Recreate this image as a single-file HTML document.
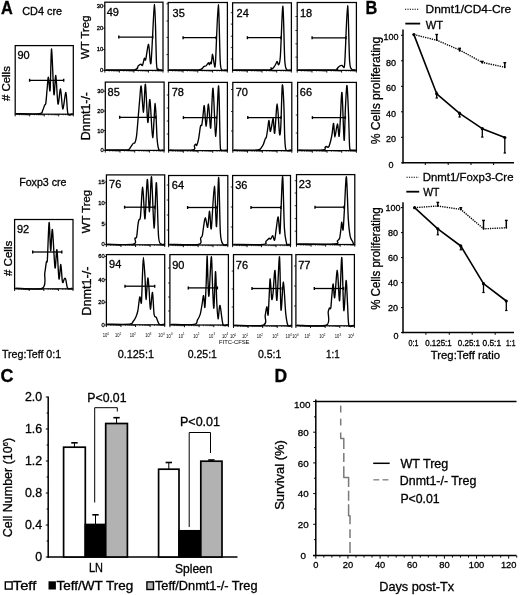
<!DOCTYPE html>
<html><head><meta charset="utf-8"><style>
html,body{margin:0;padding:0;background:#fff;}
body{width:520px;height:595px;overflow:hidden;}
svg{display:block;font-family:"Liberation Sans",sans-serif;filter:grayscale(100%);}
text{stroke:#000;stroke-width:0.3px;}
.n{stroke:none;}
</style></head><body>
<svg width="520" height="595" viewBox="0 0 520 595">
<rect width="520" height="595" fill="#fff"/>
<text x="1.00" y="13.80" font-size="17.5" font-weight="bold" textLength="11.80" lengthAdjust="spacingAndGlyphs" >A</text>
<text x="22.20" y="14.80" font-size="11" textLength="39.90" lengthAdjust="spacingAndGlyphs" >CD4 cre</text>
<text x="19.20" y="186.00" font-size="10.7" textLength="47.30" lengthAdjust="spacingAndGlyphs" >Foxp3 cre</text>
<line x1="15.20" y1="114.20" x2="15.20" y2="116.40" stroke="#000" stroke-width="0.9" />
<line x1="29.72" y1="114.20" x2="29.72" y2="116.40" stroke="#000" stroke-width="0.9" />
<line x1="44.25" y1="114.20" x2="44.25" y2="116.40" stroke="#000" stroke-width="0.9" />
<line x1="58.77" y1="114.20" x2="58.77" y2="116.40" stroke="#000" stroke-width="0.9" />
<line x1="73.30" y1="114.20" x2="73.30" y2="116.40" stroke="#000" stroke-width="0.9" />
<line x1="19.57" y1="114.20" x2="19.57" y2="115.40" stroke="#000" stroke-width="0.6" />
<line x1="22.13" y1="114.20" x2="22.13" y2="115.40" stroke="#000" stroke-width="0.6" />
<line x1="23.94" y1="114.20" x2="23.94" y2="115.40" stroke="#000" stroke-width="0.6" />
<line x1="25.35" y1="114.20" x2="25.35" y2="115.40" stroke="#000" stroke-width="0.6" />
<line x1="26.50" y1="114.20" x2="26.50" y2="115.40" stroke="#000" stroke-width="0.6" />
<line x1="27.47" y1="114.20" x2="27.47" y2="115.40" stroke="#000" stroke-width="0.6" />
<line x1="28.32" y1="114.20" x2="28.32" y2="115.40" stroke="#000" stroke-width="0.6" />
<line x1="29.06" y1="114.20" x2="29.06" y2="115.40" stroke="#000" stroke-width="0.6" />
<line x1="34.10" y1="114.20" x2="34.10" y2="115.40" stroke="#000" stroke-width="0.6" />
<line x1="36.65" y1="114.20" x2="36.65" y2="115.40" stroke="#000" stroke-width="0.6" />
<line x1="38.47" y1="114.20" x2="38.47" y2="115.40" stroke="#000" stroke-width="0.6" />
<line x1="39.88" y1="114.20" x2="39.88" y2="115.40" stroke="#000" stroke-width="0.6" />
<line x1="41.03" y1="114.20" x2="41.03" y2="115.40" stroke="#000" stroke-width="0.6" />
<line x1="42.00" y1="114.20" x2="42.00" y2="115.40" stroke="#000" stroke-width="0.6" />
<line x1="42.84" y1="114.20" x2="42.84" y2="115.40" stroke="#000" stroke-width="0.6" />
<line x1="43.58" y1="114.20" x2="43.58" y2="115.40" stroke="#000" stroke-width="0.6" />
<line x1="48.62" y1="114.20" x2="48.62" y2="115.40" stroke="#000" stroke-width="0.6" />
<line x1="51.18" y1="114.20" x2="51.18" y2="115.40" stroke="#000" stroke-width="0.6" />
<line x1="52.99" y1="114.20" x2="52.99" y2="115.40" stroke="#000" stroke-width="0.6" />
<line x1="54.40" y1="114.20" x2="54.40" y2="115.40" stroke="#000" stroke-width="0.6" />
<line x1="55.55" y1="114.20" x2="55.55" y2="115.40" stroke="#000" stroke-width="0.6" />
<line x1="56.52" y1="114.20" x2="56.52" y2="115.40" stroke="#000" stroke-width="0.6" />
<line x1="57.37" y1="114.20" x2="57.37" y2="115.40" stroke="#000" stroke-width="0.6" />
<line x1="58.11" y1="114.20" x2="58.11" y2="115.40" stroke="#000" stroke-width="0.6" />
<line x1="63.15" y1="114.20" x2="63.15" y2="115.40" stroke="#000" stroke-width="0.6" />
<line x1="65.70" y1="114.20" x2="65.70" y2="115.40" stroke="#000" stroke-width="0.6" />
<line x1="67.52" y1="114.20" x2="67.52" y2="115.40" stroke="#000" stroke-width="0.6" />
<line x1="68.93" y1="114.20" x2="68.93" y2="115.40" stroke="#000" stroke-width="0.6" />
<line x1="70.08" y1="114.20" x2="70.08" y2="115.40" stroke="#000" stroke-width="0.6" />
<line x1="71.05" y1="114.20" x2="71.05" y2="115.40" stroke="#000" stroke-width="0.6" />
<line x1="71.89" y1="114.20" x2="71.89" y2="115.40" stroke="#000" stroke-width="0.6" />
<line x1="72.63" y1="114.20" x2="72.63" y2="115.40" stroke="#000" stroke-width="0.6" />
<rect x="15.20" y="45.60" width="58.10" height="68.60" fill="none" stroke="#000" stroke-width="1.25"/>
<text x="17.40" y="59.20" font-size="11" >90</text>
<line x1="29.60" y1="80.30" x2="63.70" y2="80.30" stroke="#000" stroke-width="1.3" />
<line x1="29.60" y1="78.80" x2="29.60" y2="81.80" stroke="#000" stroke-width="1.4" />
<line x1="63.70" y1="78.80" x2="63.70" y2="81.80" stroke="#000" stroke-width="1.4" />
<path d="M16.00,113.60 C19.52,113.60 35.49,114.10 39.50,113.60 C43.51,113.11 41.94,111.56 42.70,110.30 C43.47,109.04 44.14,106.25 44.60,105.20 C45.06,104.15 45.42,105.69 45.80,103.30 C46.17,100.91 46.71,93.23 47.10,89.30 C47.49,85.37 47.95,76.95 48.40,77.10 C48.85,77.25 49.62,94.52 50.10,90.30 C50.58,86.08 51.03,48.38 51.60,49.00 C52.17,49.62 53.27,90.43 53.90,94.40 C54.53,98.38 55.18,74.06 55.80,75.50 C56.41,76.94 57.30,101.97 58.00,104.00 C58.70,106.03 59.78,88.25 60.50,89.00 C61.22,89.75 61.99,108.49 62.80,109.00 C63.61,109.51 65.14,91.71 65.90,92.40 C66.67,93.09 66.91,110.42 67.90,113.60 C68.89,116.78 71.81,113.60 72.50,113.60" fill="none" stroke="#000" stroke-width="1.35" stroke-linejoin="round" />
<line x1="104.80" y1="70.40" x2="104.80" y2="72.60" stroke="#000" stroke-width="0.9" />
<line x1="119.35" y1="70.40" x2="119.35" y2="72.60" stroke="#000" stroke-width="0.9" />
<line x1="133.90" y1="70.40" x2="133.90" y2="72.60" stroke="#000" stroke-width="0.9" />
<line x1="148.45" y1="70.40" x2="148.45" y2="72.60" stroke="#000" stroke-width="0.9" />
<line x1="163.00" y1="70.40" x2="163.00" y2="72.60" stroke="#000" stroke-width="0.9" />
<line x1="109.18" y1="70.40" x2="109.18" y2="71.60" stroke="#000" stroke-width="0.6" />
<line x1="111.74" y1="70.40" x2="111.74" y2="71.60" stroke="#000" stroke-width="0.6" />
<line x1="113.56" y1="70.40" x2="113.56" y2="71.60" stroke="#000" stroke-width="0.6" />
<line x1="114.97" y1="70.40" x2="114.97" y2="71.60" stroke="#000" stroke-width="0.6" />
<line x1="116.12" y1="70.40" x2="116.12" y2="71.60" stroke="#000" stroke-width="0.6" />
<line x1="117.09" y1="70.40" x2="117.09" y2="71.60" stroke="#000" stroke-width="0.6" />
<line x1="117.94" y1="70.40" x2="117.94" y2="71.60" stroke="#000" stroke-width="0.6" />
<line x1="118.68" y1="70.40" x2="118.68" y2="71.60" stroke="#000" stroke-width="0.6" />
<line x1="123.73" y1="70.40" x2="123.73" y2="71.60" stroke="#000" stroke-width="0.6" />
<line x1="126.29" y1="70.40" x2="126.29" y2="71.60" stroke="#000" stroke-width="0.6" />
<line x1="128.11" y1="70.40" x2="128.11" y2="71.60" stroke="#000" stroke-width="0.6" />
<line x1="129.52" y1="70.40" x2="129.52" y2="71.60" stroke="#000" stroke-width="0.6" />
<line x1="130.67" y1="70.40" x2="130.67" y2="71.60" stroke="#000" stroke-width="0.6" />
<line x1="131.64" y1="70.40" x2="131.64" y2="71.60" stroke="#000" stroke-width="0.6" />
<line x1="132.49" y1="70.40" x2="132.49" y2="71.60" stroke="#000" stroke-width="0.6" />
<line x1="133.23" y1="70.40" x2="133.23" y2="71.60" stroke="#000" stroke-width="0.6" />
<line x1="138.28" y1="70.40" x2="138.28" y2="71.60" stroke="#000" stroke-width="0.6" />
<line x1="140.84" y1="70.40" x2="140.84" y2="71.60" stroke="#000" stroke-width="0.6" />
<line x1="142.66" y1="70.40" x2="142.66" y2="71.60" stroke="#000" stroke-width="0.6" />
<line x1="144.07" y1="70.40" x2="144.07" y2="71.60" stroke="#000" stroke-width="0.6" />
<line x1="145.22" y1="70.40" x2="145.22" y2="71.60" stroke="#000" stroke-width="0.6" />
<line x1="146.19" y1="70.40" x2="146.19" y2="71.60" stroke="#000" stroke-width="0.6" />
<line x1="147.04" y1="70.40" x2="147.04" y2="71.60" stroke="#000" stroke-width="0.6" />
<line x1="147.78" y1="70.40" x2="147.78" y2="71.60" stroke="#000" stroke-width="0.6" />
<line x1="152.83" y1="70.40" x2="152.83" y2="71.60" stroke="#000" stroke-width="0.6" />
<line x1="155.39" y1="70.40" x2="155.39" y2="71.60" stroke="#000" stroke-width="0.6" />
<line x1="157.21" y1="70.40" x2="157.21" y2="71.60" stroke="#000" stroke-width="0.6" />
<line x1="158.62" y1="70.40" x2="158.62" y2="71.60" stroke="#000" stroke-width="0.6" />
<line x1="159.77" y1="70.40" x2="159.77" y2="71.60" stroke="#000" stroke-width="0.6" />
<line x1="160.74" y1="70.40" x2="160.74" y2="71.60" stroke="#000" stroke-width="0.6" />
<line x1="161.59" y1="70.40" x2="161.59" y2="71.60" stroke="#000" stroke-width="0.6" />
<line x1="162.33" y1="70.40" x2="162.33" y2="71.60" stroke="#000" stroke-width="0.6" />
<line x1="103.00" y1="6.00" x2="104.80" y2="6.00" stroke="#000" stroke-width="0.8" />
<line x1="103.00" y1="28.20" x2="104.80" y2="28.20" stroke="#000" stroke-width="0.8" />
<line x1="103.00" y1="49.50" x2="104.80" y2="49.50" stroke="#000" stroke-width="0.8" />
<line x1="103.00" y1="70.20" x2="104.80" y2="70.20" stroke="#000" stroke-width="0.8" />
<text x="103.20" y="7.90" font-size="5.8" text-anchor="end" >30</text>
<text x="103.20" y="30.10" font-size="5.8" text-anchor="end" >20</text>
<text x="103.20" y="51.40" font-size="5.8" text-anchor="end" >10</text>
<text x="103.20" y="71.90" font-size="5.8" text-anchor="end" >0</text>
<rect x="104.80" y="2.20" width="58.20" height="68.20" fill="none" stroke="#000" stroke-width="1.25"/>
<text x="106.70" y="15.50" font-size="11" >49</text>
<line x1="118.80" y1="37.10" x2="152.70" y2="37.10" stroke="#000" stroke-width="1.3" />
<line x1="118.80" y1="35.60" x2="118.80" y2="38.60" stroke="#000" stroke-width="1.4" />
<line x1="152.70" y1="35.60" x2="152.70" y2="38.60" stroke="#000" stroke-width="1.4" />
<path d="M105.60,69.80 C109.91,69.80 129.43,70.37 134.30,69.80 C139.18,69.23 137.11,66.86 138.10,66.00 C139.09,65.14 140.24,64.19 140.90,64.10 C141.56,64.01 141.97,66.26 142.50,65.40 C143.03,64.55 143.92,59.27 144.40,58.40 C144.88,57.53 145.07,61.70 145.70,59.60 C146.33,57.50 147.81,43.92 148.60,44.40 C149.39,44.88 150.10,68.80 151.00,62.80 C151.90,56.80 153.78,4.29 154.60,4.40 C155.42,4.51 155.93,53.78 156.50,63.50 C157.07,73.22 157.88,68.25 158.40,69.20 C158.93,70.15 159.43,69.71 160.00,69.80 C160.57,69.89 161.87,69.80 162.20,69.80" fill="none" stroke="#000" stroke-width="1.35" stroke-linejoin="round" />
<line x1="168.20" y1="70.40" x2="168.20" y2="72.60" stroke="#000" stroke-width="0.9" />
<line x1="183.00" y1="70.40" x2="183.00" y2="72.60" stroke="#000" stroke-width="0.9" />
<line x1="197.80" y1="70.40" x2="197.80" y2="72.60" stroke="#000" stroke-width="0.9" />
<line x1="212.60" y1="70.40" x2="212.60" y2="72.60" stroke="#000" stroke-width="0.9" />
<line x1="227.40" y1="70.40" x2="227.40" y2="72.60" stroke="#000" stroke-width="0.9" />
<line x1="172.65" y1="70.40" x2="172.65" y2="71.60" stroke="#000" stroke-width="0.6" />
<line x1="175.26" y1="70.40" x2="175.26" y2="71.60" stroke="#000" stroke-width="0.6" />
<line x1="177.11" y1="70.40" x2="177.11" y2="71.60" stroke="#000" stroke-width="0.6" />
<line x1="178.55" y1="70.40" x2="178.55" y2="71.60" stroke="#000" stroke-width="0.6" />
<line x1="179.71" y1="70.40" x2="179.71" y2="71.60" stroke="#000" stroke-width="0.6" />
<line x1="180.71" y1="70.40" x2="180.71" y2="71.60" stroke="#000" stroke-width="0.6" />
<line x1="181.56" y1="70.40" x2="181.56" y2="71.60" stroke="#000" stroke-width="0.6" />
<line x1="182.32" y1="70.40" x2="182.32" y2="71.60" stroke="#000" stroke-width="0.6" />
<line x1="187.45" y1="70.40" x2="187.45" y2="71.60" stroke="#000" stroke-width="0.6" />
<line x1="190.06" y1="70.40" x2="190.06" y2="71.60" stroke="#000" stroke-width="0.6" />
<line x1="191.91" y1="70.40" x2="191.91" y2="71.60" stroke="#000" stroke-width="0.6" />
<line x1="193.35" y1="70.40" x2="193.35" y2="71.60" stroke="#000" stroke-width="0.6" />
<line x1="194.51" y1="70.40" x2="194.51" y2="71.60" stroke="#000" stroke-width="0.6" />
<line x1="195.51" y1="70.40" x2="195.51" y2="71.60" stroke="#000" stroke-width="0.6" />
<line x1="196.36" y1="70.40" x2="196.36" y2="71.60" stroke="#000" stroke-width="0.6" />
<line x1="197.12" y1="70.40" x2="197.12" y2="71.60" stroke="#000" stroke-width="0.6" />
<line x1="202.25" y1="70.40" x2="202.25" y2="71.60" stroke="#000" stroke-width="0.6" />
<line x1="204.86" y1="70.40" x2="204.86" y2="71.60" stroke="#000" stroke-width="0.6" />
<line x1="206.71" y1="70.40" x2="206.71" y2="71.60" stroke="#000" stroke-width="0.6" />
<line x1="208.15" y1="70.40" x2="208.15" y2="71.60" stroke="#000" stroke-width="0.6" />
<line x1="209.31" y1="70.40" x2="209.31" y2="71.60" stroke="#000" stroke-width="0.6" />
<line x1="210.31" y1="70.40" x2="210.31" y2="71.60" stroke="#000" stroke-width="0.6" />
<line x1="211.16" y1="70.40" x2="211.16" y2="71.60" stroke="#000" stroke-width="0.6" />
<line x1="211.92" y1="70.40" x2="211.92" y2="71.60" stroke="#000" stroke-width="0.6" />
<line x1="217.05" y1="70.40" x2="217.05" y2="71.60" stroke="#000" stroke-width="0.6" />
<line x1="219.66" y1="70.40" x2="219.66" y2="71.60" stroke="#000" stroke-width="0.6" />
<line x1="221.51" y1="70.40" x2="221.51" y2="71.60" stroke="#000" stroke-width="0.6" />
<line x1="222.95" y1="70.40" x2="222.95" y2="71.60" stroke="#000" stroke-width="0.6" />
<line x1="224.11" y1="70.40" x2="224.11" y2="71.60" stroke="#000" stroke-width="0.6" />
<line x1="225.11" y1="70.40" x2="225.11" y2="71.60" stroke="#000" stroke-width="0.6" />
<line x1="225.96" y1="70.40" x2="225.96" y2="71.60" stroke="#000" stroke-width="0.6" />
<line x1="226.72" y1="70.40" x2="226.72" y2="71.60" stroke="#000" stroke-width="0.6" />
<line x1="166.40" y1="3.80" x2="168.20" y2="3.80" stroke="#000" stroke-width="0.8" />
<line x1="166.40" y1="21.00" x2="168.20" y2="21.00" stroke="#000" stroke-width="0.8" />
<line x1="166.40" y1="37.40" x2="168.20" y2="37.40" stroke="#000" stroke-width="0.8" />
<line x1="166.40" y1="54.60" x2="168.20" y2="54.60" stroke="#000" stroke-width="0.8" />
<rect x="168.20" y="2.50" width="59.20" height="67.90" fill="none" stroke="#000" stroke-width="1.25"/>
<text x="172.60" y="16.50" font-size="11" >35</text>
<line x1="183.10" y1="37.70" x2="216.10" y2="37.70" stroke="#000" stroke-width="1.3" />
<line x1="183.10" y1="36.20" x2="183.10" y2="39.20" stroke="#000" stroke-width="1.4" />
<line x1="216.10" y1="36.20" x2="216.10" y2="39.20" stroke="#000" stroke-width="1.4" />
<path d="M169.00,69.80 C173.44,69.80 193.39,70.28 198.60,69.80 C203.81,69.32 202.56,67.21 203.70,66.60 C204.84,65.98 205.49,66.27 206.20,65.70 C206.91,65.13 207.92,62.95 208.40,62.80 C208.88,62.65 209.10,64.79 209.40,64.70 C209.70,64.61 210.12,62.38 210.40,62.20 C210.69,62.02 210.97,64.69 211.30,63.50 C211.63,62.31 212.16,54.21 212.60,54.30 C213.03,54.39 213.76,62.91 214.20,64.10 C214.63,65.28 214.88,71.09 215.50,62.20 C216.12,53.31 217.60,5.00 218.30,4.80 C219.00,4.60 219.66,51.15 220.20,60.90 C220.74,70.65 220.94,68.47 221.90,69.80 C222.86,71.14 225.89,69.80 226.60,69.80" fill="none" stroke="#000" stroke-width="1.35" stroke-linejoin="round" />
<line x1="232.60" y1="70.40" x2="232.60" y2="72.60" stroke="#000" stroke-width="0.9" />
<line x1="247.30" y1="70.40" x2="247.30" y2="72.60" stroke="#000" stroke-width="0.9" />
<line x1="262.00" y1="70.40" x2="262.00" y2="72.60" stroke="#000" stroke-width="0.9" />
<line x1="276.70" y1="70.40" x2="276.70" y2="72.60" stroke="#000" stroke-width="0.9" />
<line x1="291.40" y1="70.40" x2="291.40" y2="72.60" stroke="#000" stroke-width="0.9" />
<line x1="237.02" y1="70.40" x2="237.02" y2="71.60" stroke="#000" stroke-width="0.6" />
<line x1="239.61" y1="70.40" x2="239.61" y2="71.60" stroke="#000" stroke-width="0.6" />
<line x1="241.45" y1="70.40" x2="241.45" y2="71.60" stroke="#000" stroke-width="0.6" />
<line x1="242.88" y1="70.40" x2="242.88" y2="71.60" stroke="#000" stroke-width="0.6" />
<line x1="244.04" y1="70.40" x2="244.04" y2="71.60" stroke="#000" stroke-width="0.6" />
<line x1="245.02" y1="70.40" x2="245.02" y2="71.60" stroke="#000" stroke-width="0.6" />
<line x1="245.87" y1="70.40" x2="245.87" y2="71.60" stroke="#000" stroke-width="0.6" />
<line x1="246.62" y1="70.40" x2="246.62" y2="71.60" stroke="#000" stroke-width="0.6" />
<line x1="251.72" y1="70.40" x2="251.72" y2="71.60" stroke="#000" stroke-width="0.6" />
<line x1="254.31" y1="70.40" x2="254.31" y2="71.60" stroke="#000" stroke-width="0.6" />
<line x1="256.15" y1="70.40" x2="256.15" y2="71.60" stroke="#000" stroke-width="0.6" />
<line x1="257.58" y1="70.40" x2="257.58" y2="71.60" stroke="#000" stroke-width="0.6" />
<line x1="258.74" y1="70.40" x2="258.74" y2="71.60" stroke="#000" stroke-width="0.6" />
<line x1="259.72" y1="70.40" x2="259.72" y2="71.60" stroke="#000" stroke-width="0.6" />
<line x1="260.57" y1="70.40" x2="260.57" y2="71.60" stroke="#000" stroke-width="0.6" />
<line x1="261.32" y1="70.40" x2="261.32" y2="71.60" stroke="#000" stroke-width="0.6" />
<line x1="266.42" y1="70.40" x2="266.42" y2="71.60" stroke="#000" stroke-width="0.6" />
<line x1="269.01" y1="70.40" x2="269.01" y2="71.60" stroke="#000" stroke-width="0.6" />
<line x1="270.85" y1="70.40" x2="270.85" y2="71.60" stroke="#000" stroke-width="0.6" />
<line x1="272.28" y1="70.40" x2="272.28" y2="71.60" stroke="#000" stroke-width="0.6" />
<line x1="273.44" y1="70.40" x2="273.44" y2="71.60" stroke="#000" stroke-width="0.6" />
<line x1="274.42" y1="70.40" x2="274.42" y2="71.60" stroke="#000" stroke-width="0.6" />
<line x1="275.27" y1="70.40" x2="275.27" y2="71.60" stroke="#000" stroke-width="0.6" />
<line x1="276.02" y1="70.40" x2="276.02" y2="71.60" stroke="#000" stroke-width="0.6" />
<line x1="281.12" y1="70.40" x2="281.12" y2="71.60" stroke="#000" stroke-width="0.6" />
<line x1="283.71" y1="70.40" x2="283.71" y2="71.60" stroke="#000" stroke-width="0.6" />
<line x1="285.55" y1="70.40" x2="285.55" y2="71.60" stroke="#000" stroke-width="0.6" />
<line x1="286.98" y1="70.40" x2="286.98" y2="71.60" stroke="#000" stroke-width="0.6" />
<line x1="288.14" y1="70.40" x2="288.14" y2="71.60" stroke="#000" stroke-width="0.6" />
<line x1="289.12" y1="70.40" x2="289.12" y2="71.60" stroke="#000" stroke-width="0.6" />
<line x1="289.97" y1="70.40" x2="289.97" y2="71.60" stroke="#000" stroke-width="0.6" />
<line x1="290.72" y1="70.40" x2="290.72" y2="71.60" stroke="#000" stroke-width="0.6" />
<line x1="230.80" y1="12.70" x2="232.60" y2="12.70" stroke="#000" stroke-width="0.8" />
<line x1="230.80" y1="24.10" x2="232.60" y2="24.10" stroke="#000" stroke-width="0.8" />
<line x1="230.80" y1="36.20" x2="232.60" y2="36.20" stroke="#000" stroke-width="0.8" />
<line x1="230.80" y1="47.60" x2="232.60" y2="47.60" stroke="#000" stroke-width="0.8" />
<line x1="230.80" y1="59.00" x2="232.60" y2="59.00" stroke="#000" stroke-width="0.8" />
<rect x="232.60" y="2.80" width="58.80" height="67.60" fill="none" stroke="#000" stroke-width="1.25"/>
<text x="236.60" y="16.80" font-size="11" >24</text>
<line x1="247.40" y1="37.70" x2="281.00" y2="37.70" stroke="#000" stroke-width="1.3" />
<line x1="247.40" y1="36.20" x2="247.40" y2="39.20" stroke="#000" stroke-width="1.4" />
<line x1="281.00" y1="36.20" x2="281.00" y2="39.20" stroke="#000" stroke-width="1.4" />
<path d="M233.40,69.80 C238.74,69.80 263.38,70.09 269.00,69.80 C274.62,69.52 270.33,68.10 270.90,67.90 C271.47,67.70 272.23,68.78 272.80,68.50 C273.37,68.22 274.22,66.75 274.70,66.00 C275.18,65.25 275.62,64.17 276.00,63.50 C276.38,62.83 276.80,61.32 277.20,61.50 C277.60,61.68 278.22,65.56 278.70,64.70 C279.18,63.84 279.77,64.56 280.40,55.80 C281.03,47.04 282.24,5.53 282.90,6.30 C283.56,7.07 284.17,51.38 284.80,60.90 C285.43,70.42 286.23,68.47 287.10,69.80 C287.97,71.14 290.07,69.80 290.60,69.80" fill="none" stroke="#000" stroke-width="1.35" stroke-linejoin="round" />
<line x1="297.20" y1="70.40" x2="297.20" y2="72.60" stroke="#000" stroke-width="0.9" />
<line x1="312.00" y1="70.40" x2="312.00" y2="72.60" stroke="#000" stroke-width="0.9" />
<line x1="326.80" y1="70.40" x2="326.80" y2="72.60" stroke="#000" stroke-width="0.9" />
<line x1="341.60" y1="70.40" x2="341.60" y2="72.60" stroke="#000" stroke-width="0.9" />
<line x1="356.40" y1="70.40" x2="356.40" y2="72.60" stroke="#000" stroke-width="0.9" />
<line x1="301.65" y1="70.40" x2="301.65" y2="71.60" stroke="#000" stroke-width="0.6" />
<line x1="304.26" y1="70.40" x2="304.26" y2="71.60" stroke="#000" stroke-width="0.6" />
<line x1="306.11" y1="70.40" x2="306.11" y2="71.60" stroke="#000" stroke-width="0.6" />
<line x1="307.55" y1="70.40" x2="307.55" y2="71.60" stroke="#000" stroke-width="0.6" />
<line x1="308.71" y1="70.40" x2="308.71" y2="71.60" stroke="#000" stroke-width="0.6" />
<line x1="309.71" y1="70.40" x2="309.71" y2="71.60" stroke="#000" stroke-width="0.6" />
<line x1="310.56" y1="70.40" x2="310.56" y2="71.60" stroke="#000" stroke-width="0.6" />
<line x1="311.32" y1="70.40" x2="311.32" y2="71.60" stroke="#000" stroke-width="0.6" />
<line x1="316.45" y1="70.40" x2="316.45" y2="71.60" stroke="#000" stroke-width="0.6" />
<line x1="319.06" y1="70.40" x2="319.06" y2="71.60" stroke="#000" stroke-width="0.6" />
<line x1="320.91" y1="70.40" x2="320.91" y2="71.60" stroke="#000" stroke-width="0.6" />
<line x1="322.35" y1="70.40" x2="322.35" y2="71.60" stroke="#000" stroke-width="0.6" />
<line x1="323.51" y1="70.40" x2="323.51" y2="71.60" stroke="#000" stroke-width="0.6" />
<line x1="324.51" y1="70.40" x2="324.51" y2="71.60" stroke="#000" stroke-width="0.6" />
<line x1="325.36" y1="70.40" x2="325.36" y2="71.60" stroke="#000" stroke-width="0.6" />
<line x1="326.12" y1="70.40" x2="326.12" y2="71.60" stroke="#000" stroke-width="0.6" />
<line x1="331.25" y1="70.40" x2="331.25" y2="71.60" stroke="#000" stroke-width="0.6" />
<line x1="333.86" y1="70.40" x2="333.86" y2="71.60" stroke="#000" stroke-width="0.6" />
<line x1="335.71" y1="70.40" x2="335.71" y2="71.60" stroke="#000" stroke-width="0.6" />
<line x1="337.15" y1="70.40" x2="337.15" y2="71.60" stroke="#000" stroke-width="0.6" />
<line x1="338.31" y1="70.40" x2="338.31" y2="71.60" stroke="#000" stroke-width="0.6" />
<line x1="339.31" y1="70.40" x2="339.31" y2="71.60" stroke="#000" stroke-width="0.6" />
<line x1="340.16" y1="70.40" x2="340.16" y2="71.60" stroke="#000" stroke-width="0.6" />
<line x1="340.92" y1="70.40" x2="340.92" y2="71.60" stroke="#000" stroke-width="0.6" />
<line x1="346.05" y1="70.40" x2="346.05" y2="71.60" stroke="#000" stroke-width="0.6" />
<line x1="348.66" y1="70.40" x2="348.66" y2="71.60" stroke="#000" stroke-width="0.6" />
<line x1="350.51" y1="70.40" x2="350.51" y2="71.60" stroke="#000" stroke-width="0.6" />
<line x1="351.95" y1="70.40" x2="351.95" y2="71.60" stroke="#000" stroke-width="0.6" />
<line x1="353.11" y1="70.40" x2="353.11" y2="71.60" stroke="#000" stroke-width="0.6" />
<line x1="354.11" y1="70.40" x2="354.11" y2="71.60" stroke="#000" stroke-width="0.6" />
<line x1="354.96" y1="70.40" x2="354.96" y2="71.60" stroke="#000" stroke-width="0.6" />
<line x1="355.72" y1="70.40" x2="355.72" y2="71.60" stroke="#000" stroke-width="0.6" />
<line x1="295.40" y1="16.50" x2="297.20" y2="16.50" stroke="#000" stroke-width="0.8" />
<line x1="295.40" y1="30.50" x2="297.20" y2="30.50" stroke="#000" stroke-width="0.8" />
<line x1="295.40" y1="43.80" x2="297.20" y2="43.80" stroke="#000" stroke-width="0.8" />
<line x1="295.40" y1="57.10" x2="297.20" y2="57.10" stroke="#000" stroke-width="0.8" />
<rect x="297.20" y="2.50" width="59.20" height="67.90" fill="none" stroke="#000" stroke-width="1.25"/>
<text x="300.00" y="16.50" font-size="11" >18</text>
<line x1="312.10" y1="37.80" x2="346.00" y2="37.80" stroke="#000" stroke-width="1.3" />
<line x1="312.10" y1="36.30" x2="312.10" y2="39.30" stroke="#000" stroke-width="1.4" />
<line x1="346.00" y1="36.30" x2="346.00" y2="39.30" stroke="#000" stroke-width="1.4" />
<path d="M298.00,69.80 C303.46,69.80 328.53,70.00 334.40,69.80 C340.26,69.61 336.31,69.07 337.10,68.50 C337.90,67.93 338.96,66.47 339.70,66.00 C340.44,65.53 341.48,65.31 342.00,65.40 C342.52,65.49 342.78,67.08 343.20,66.60 C343.62,66.12 344.14,71.34 344.80,62.20 C345.46,53.07 346.88,5.90 347.60,5.70 C348.32,5.50 348.99,51.38 349.60,60.90 C350.22,70.42 351.00,67.86 351.70,69.20 C352.40,70.54 353.72,69.71 354.30,69.80 C354.88,69.89 355.40,69.80 355.60,69.80" fill="none" stroke="#000" stroke-width="1.35" stroke-linejoin="round" />
<line x1="105.30" y1="150.40" x2="105.30" y2="152.60" stroke="#000" stroke-width="0.9" />
<line x1="120.00" y1="150.40" x2="120.00" y2="152.60" stroke="#000" stroke-width="0.9" />
<line x1="134.70" y1="150.40" x2="134.70" y2="152.60" stroke="#000" stroke-width="0.9" />
<line x1="149.40" y1="150.40" x2="149.40" y2="152.60" stroke="#000" stroke-width="0.9" />
<line x1="164.10" y1="150.40" x2="164.10" y2="152.60" stroke="#000" stroke-width="0.9" />
<line x1="109.72" y1="150.40" x2="109.72" y2="151.60" stroke="#000" stroke-width="0.6" />
<line x1="112.31" y1="150.40" x2="112.31" y2="151.60" stroke="#000" stroke-width="0.6" />
<line x1="114.15" y1="150.40" x2="114.15" y2="151.60" stroke="#000" stroke-width="0.6" />
<line x1="115.58" y1="150.40" x2="115.58" y2="151.60" stroke="#000" stroke-width="0.6" />
<line x1="116.74" y1="150.40" x2="116.74" y2="151.60" stroke="#000" stroke-width="0.6" />
<line x1="117.72" y1="150.40" x2="117.72" y2="151.60" stroke="#000" stroke-width="0.6" />
<line x1="118.57" y1="150.40" x2="118.57" y2="151.60" stroke="#000" stroke-width="0.6" />
<line x1="119.32" y1="150.40" x2="119.32" y2="151.60" stroke="#000" stroke-width="0.6" />
<line x1="124.42" y1="150.40" x2="124.42" y2="151.60" stroke="#000" stroke-width="0.6" />
<line x1="127.01" y1="150.40" x2="127.01" y2="151.60" stroke="#000" stroke-width="0.6" />
<line x1="128.85" y1="150.40" x2="128.85" y2="151.60" stroke="#000" stroke-width="0.6" />
<line x1="130.28" y1="150.40" x2="130.28" y2="151.60" stroke="#000" stroke-width="0.6" />
<line x1="131.44" y1="150.40" x2="131.44" y2="151.60" stroke="#000" stroke-width="0.6" />
<line x1="132.42" y1="150.40" x2="132.42" y2="151.60" stroke="#000" stroke-width="0.6" />
<line x1="133.27" y1="150.40" x2="133.27" y2="151.60" stroke="#000" stroke-width="0.6" />
<line x1="134.02" y1="150.40" x2="134.02" y2="151.60" stroke="#000" stroke-width="0.6" />
<line x1="139.12" y1="150.40" x2="139.12" y2="151.60" stroke="#000" stroke-width="0.6" />
<line x1="141.71" y1="150.40" x2="141.71" y2="151.60" stroke="#000" stroke-width="0.6" />
<line x1="143.55" y1="150.40" x2="143.55" y2="151.60" stroke="#000" stroke-width="0.6" />
<line x1="144.98" y1="150.40" x2="144.98" y2="151.60" stroke="#000" stroke-width="0.6" />
<line x1="146.14" y1="150.40" x2="146.14" y2="151.60" stroke="#000" stroke-width="0.6" />
<line x1="147.12" y1="150.40" x2="147.12" y2="151.60" stroke="#000" stroke-width="0.6" />
<line x1="147.97" y1="150.40" x2="147.97" y2="151.60" stroke="#000" stroke-width="0.6" />
<line x1="148.72" y1="150.40" x2="148.72" y2="151.60" stroke="#000" stroke-width="0.6" />
<line x1="153.82" y1="150.40" x2="153.82" y2="151.60" stroke="#000" stroke-width="0.6" />
<line x1="156.41" y1="150.40" x2="156.41" y2="151.60" stroke="#000" stroke-width="0.6" />
<line x1="158.25" y1="150.40" x2="158.25" y2="151.60" stroke="#000" stroke-width="0.6" />
<line x1="159.68" y1="150.40" x2="159.68" y2="151.60" stroke="#000" stroke-width="0.6" />
<line x1="160.84" y1="150.40" x2="160.84" y2="151.60" stroke="#000" stroke-width="0.6" />
<line x1="161.82" y1="150.40" x2="161.82" y2="151.60" stroke="#000" stroke-width="0.6" />
<line x1="162.67" y1="150.40" x2="162.67" y2="151.60" stroke="#000" stroke-width="0.6" />
<line x1="163.42" y1="150.40" x2="163.42" y2="151.60" stroke="#000" stroke-width="0.6" />
<line x1="103.50" y1="91.20" x2="105.30" y2="91.20" stroke="#000" stroke-width="0.8" />
<line x1="103.50" y1="111.00" x2="105.30" y2="111.00" stroke="#000" stroke-width="0.8" />
<line x1="103.50" y1="130.60" x2="105.30" y2="130.60" stroke="#000" stroke-width="0.8" />
<line x1="103.50" y1="150.40" x2="105.30" y2="150.40" stroke="#000" stroke-width="0.8" />
<text x="103.70" y="93.10" font-size="5.8" text-anchor="end" >30</text>
<text x="103.70" y="112.90" font-size="5.8" text-anchor="end" >20</text>
<text x="103.70" y="132.50" font-size="5.8" text-anchor="end" >10</text>
<text x="103.70" y="152.10" font-size="5.8" text-anchor="end" >0</text>
<rect x="105.30" y="82.10" width="58.80" height="68.30" fill="none" stroke="#000" stroke-width="1.25"/>
<text x="107.60" y="95.50" font-size="11" >85</text>
<line x1="119.70" y1="117.30" x2="155.80" y2="117.30" stroke="#000" stroke-width="1.3" />
<line x1="119.70" y1="115.80" x2="119.70" y2="118.80" stroke="#000" stroke-width="1.4" />
<line x1="155.80" y1="115.80" x2="155.80" y2="118.80" stroke="#000" stroke-width="1.4" />
<path d="M106.10,149.80 C109.28,149.80 123.64,150.19 127.30,149.80 C130.96,149.41 129.62,148.16 130.50,147.20 C131.38,146.24 132.54,144.08 133.20,143.40 C133.86,142.72 134.41,143.75 134.90,142.70 C135.40,141.65 136.02,140.02 136.50,136.40 C136.98,132.78 137.63,123.94 138.10,118.60 C138.56,113.26 139.13,105.66 139.60,100.80 C140.06,95.94 140.61,84.48 141.20,86.20 C141.78,87.92 142.87,112.58 143.50,112.30 C144.13,112.02 144.75,82.78 145.40,84.30 C146.05,85.81 147.12,120.11 147.80,122.40 C148.48,124.70 149.17,97.32 149.90,99.60 C150.63,101.88 151.91,137.03 152.70,137.60 C153.49,138.17 154.54,103.20 155.20,103.40 C155.86,103.60 156.53,131.94 157.10,138.90 C157.67,145.86 158.07,148.17 159.00,149.80 C159.93,151.44 162.65,149.80 163.30,149.80" fill="none" stroke="#000" stroke-width="1.35" stroke-linejoin="round" />
<line x1="168.60" y1="150.60" x2="168.60" y2="152.80" stroke="#000" stroke-width="0.9" />
<line x1="183.30" y1="150.60" x2="183.30" y2="152.80" stroke="#000" stroke-width="0.9" />
<line x1="198.00" y1="150.60" x2="198.00" y2="152.80" stroke="#000" stroke-width="0.9" />
<line x1="212.70" y1="150.60" x2="212.70" y2="152.80" stroke="#000" stroke-width="0.9" />
<line x1="227.40" y1="150.60" x2="227.40" y2="152.80" stroke="#000" stroke-width="0.9" />
<line x1="173.02" y1="150.60" x2="173.02" y2="151.80" stroke="#000" stroke-width="0.6" />
<line x1="175.61" y1="150.60" x2="175.61" y2="151.80" stroke="#000" stroke-width="0.6" />
<line x1="177.45" y1="150.60" x2="177.45" y2="151.80" stroke="#000" stroke-width="0.6" />
<line x1="178.88" y1="150.60" x2="178.88" y2="151.80" stroke="#000" stroke-width="0.6" />
<line x1="180.04" y1="150.60" x2="180.04" y2="151.80" stroke="#000" stroke-width="0.6" />
<line x1="181.02" y1="150.60" x2="181.02" y2="151.80" stroke="#000" stroke-width="0.6" />
<line x1="181.87" y1="150.60" x2="181.87" y2="151.80" stroke="#000" stroke-width="0.6" />
<line x1="182.62" y1="150.60" x2="182.62" y2="151.80" stroke="#000" stroke-width="0.6" />
<line x1="187.72" y1="150.60" x2="187.72" y2="151.80" stroke="#000" stroke-width="0.6" />
<line x1="190.31" y1="150.60" x2="190.31" y2="151.80" stroke="#000" stroke-width="0.6" />
<line x1="192.15" y1="150.60" x2="192.15" y2="151.80" stroke="#000" stroke-width="0.6" />
<line x1="193.58" y1="150.60" x2="193.58" y2="151.80" stroke="#000" stroke-width="0.6" />
<line x1="194.74" y1="150.60" x2="194.74" y2="151.80" stroke="#000" stroke-width="0.6" />
<line x1="195.72" y1="150.60" x2="195.72" y2="151.80" stroke="#000" stroke-width="0.6" />
<line x1="196.57" y1="150.60" x2="196.57" y2="151.80" stroke="#000" stroke-width="0.6" />
<line x1="197.32" y1="150.60" x2="197.32" y2="151.80" stroke="#000" stroke-width="0.6" />
<line x1="202.42" y1="150.60" x2="202.42" y2="151.80" stroke="#000" stroke-width="0.6" />
<line x1="205.01" y1="150.60" x2="205.01" y2="151.80" stroke="#000" stroke-width="0.6" />
<line x1="206.85" y1="150.60" x2="206.85" y2="151.80" stroke="#000" stroke-width="0.6" />
<line x1="208.28" y1="150.60" x2="208.28" y2="151.80" stroke="#000" stroke-width="0.6" />
<line x1="209.44" y1="150.60" x2="209.44" y2="151.80" stroke="#000" stroke-width="0.6" />
<line x1="210.42" y1="150.60" x2="210.42" y2="151.80" stroke="#000" stroke-width="0.6" />
<line x1="211.27" y1="150.60" x2="211.27" y2="151.80" stroke="#000" stroke-width="0.6" />
<line x1="212.02" y1="150.60" x2="212.02" y2="151.80" stroke="#000" stroke-width="0.6" />
<line x1="217.12" y1="150.60" x2="217.12" y2="151.80" stroke="#000" stroke-width="0.6" />
<line x1="219.71" y1="150.60" x2="219.71" y2="151.80" stroke="#000" stroke-width="0.6" />
<line x1="221.55" y1="150.60" x2="221.55" y2="151.80" stroke="#000" stroke-width="0.6" />
<line x1="222.98" y1="150.60" x2="222.98" y2="151.80" stroke="#000" stroke-width="0.6" />
<line x1="224.14" y1="150.60" x2="224.14" y2="151.80" stroke="#000" stroke-width="0.6" />
<line x1="225.12" y1="150.60" x2="225.12" y2="151.80" stroke="#000" stroke-width="0.6" />
<line x1="225.97" y1="150.60" x2="225.97" y2="151.80" stroke="#000" stroke-width="0.6" />
<line x1="226.72" y1="150.60" x2="226.72" y2="151.80" stroke="#000" stroke-width="0.6" />
<line x1="166.80" y1="95.00" x2="168.60" y2="95.00" stroke="#000" stroke-width="0.8" />
<line x1="166.80" y1="108.00" x2="168.60" y2="108.00" stroke="#000" stroke-width="0.8" />
<line x1="166.80" y1="121.00" x2="168.60" y2="121.00" stroke="#000" stroke-width="0.8" />
<line x1="166.80" y1="134.00" x2="168.60" y2="134.00" stroke="#000" stroke-width="0.8" />
<rect x="168.60" y="82.40" width="58.80" height="68.20" fill="none" stroke="#000" stroke-width="1.25"/>
<text x="171.70" y="96.40" font-size="11" >78</text>
<line x1="183.40" y1="117.60" x2="216.40" y2="117.60" stroke="#000" stroke-width="1.3" />
<line x1="183.40" y1="116.10" x2="183.40" y2="119.10" stroke="#000" stroke-width="1.4" />
<line x1="216.40" y1="116.10" x2="216.40" y2="119.10" stroke="#000" stroke-width="1.4" />
<path d="M169.40,150.00 C172.90,150.00 188.95,150.62 192.70,150.00 C196.45,149.38 193.95,146.77 194.40,145.90 C194.85,145.03 195.35,144.29 195.70,144.20 C196.04,144.11 196.26,146.09 196.70,145.30 C197.13,144.51 198.03,141.77 198.60,138.90 C199.17,136.03 200.02,128.28 200.50,126.20 C200.98,124.12 201.41,126.71 201.80,125.00 C202.19,123.29 202.72,117.66 203.10,114.80 C203.47,111.94 203.84,104.19 204.30,105.90 C204.77,107.61 205.57,126.48 206.20,126.20 C206.83,125.92 207.82,103.72 208.50,104.00 C209.18,104.28 210.02,130.47 210.70,128.10 C211.38,125.73 212.23,86.95 213.00,88.20 C213.77,89.45 214.96,136.75 215.80,136.40 C216.64,136.06 217.94,84.76 218.60,85.90 C219.26,87.04 219.76,134.38 220.20,144.00 C220.63,153.62 220.54,149.10 221.50,150.00 C222.46,150.90 225.84,150.00 226.60,150.00" fill="none" stroke="#000" stroke-width="1.35" stroke-linejoin="round" />
<line x1="232.80" y1="150.60" x2="232.80" y2="152.80" stroke="#000" stroke-width="0.9" />
<line x1="247.55" y1="150.60" x2="247.55" y2="152.80" stroke="#000" stroke-width="0.9" />
<line x1="262.30" y1="150.60" x2="262.30" y2="152.80" stroke="#000" stroke-width="0.9" />
<line x1="277.05" y1="150.60" x2="277.05" y2="152.80" stroke="#000" stroke-width="0.9" />
<line x1="291.80" y1="150.60" x2="291.80" y2="152.80" stroke="#000" stroke-width="0.9" />
<line x1="237.24" y1="150.60" x2="237.24" y2="151.80" stroke="#000" stroke-width="0.6" />
<line x1="239.84" y1="150.60" x2="239.84" y2="151.80" stroke="#000" stroke-width="0.6" />
<line x1="241.68" y1="150.60" x2="241.68" y2="151.80" stroke="#000" stroke-width="0.6" />
<line x1="243.11" y1="150.60" x2="243.11" y2="151.80" stroke="#000" stroke-width="0.6" />
<line x1="244.28" y1="150.60" x2="244.28" y2="151.80" stroke="#000" stroke-width="0.6" />
<line x1="245.26" y1="150.60" x2="245.26" y2="151.80" stroke="#000" stroke-width="0.6" />
<line x1="246.12" y1="150.60" x2="246.12" y2="151.80" stroke="#000" stroke-width="0.6" />
<line x1="246.87" y1="150.60" x2="246.87" y2="151.80" stroke="#000" stroke-width="0.6" />
<line x1="251.99" y1="150.60" x2="251.99" y2="151.80" stroke="#000" stroke-width="0.6" />
<line x1="254.59" y1="150.60" x2="254.59" y2="151.80" stroke="#000" stroke-width="0.6" />
<line x1="256.43" y1="150.60" x2="256.43" y2="151.80" stroke="#000" stroke-width="0.6" />
<line x1="257.86" y1="150.60" x2="257.86" y2="151.80" stroke="#000" stroke-width="0.6" />
<line x1="259.03" y1="150.60" x2="259.03" y2="151.80" stroke="#000" stroke-width="0.6" />
<line x1="260.01" y1="150.60" x2="260.01" y2="151.80" stroke="#000" stroke-width="0.6" />
<line x1="260.87" y1="150.60" x2="260.87" y2="151.80" stroke="#000" stroke-width="0.6" />
<line x1="261.62" y1="150.60" x2="261.62" y2="151.80" stroke="#000" stroke-width="0.6" />
<line x1="266.74" y1="150.60" x2="266.74" y2="151.80" stroke="#000" stroke-width="0.6" />
<line x1="269.34" y1="150.60" x2="269.34" y2="151.80" stroke="#000" stroke-width="0.6" />
<line x1="271.18" y1="150.60" x2="271.18" y2="151.80" stroke="#000" stroke-width="0.6" />
<line x1="272.61" y1="150.60" x2="272.61" y2="151.80" stroke="#000" stroke-width="0.6" />
<line x1="273.78" y1="150.60" x2="273.78" y2="151.80" stroke="#000" stroke-width="0.6" />
<line x1="274.76" y1="150.60" x2="274.76" y2="151.80" stroke="#000" stroke-width="0.6" />
<line x1="275.62" y1="150.60" x2="275.62" y2="151.80" stroke="#000" stroke-width="0.6" />
<line x1="276.37" y1="150.60" x2="276.37" y2="151.80" stroke="#000" stroke-width="0.6" />
<line x1="281.49" y1="150.60" x2="281.49" y2="151.80" stroke="#000" stroke-width="0.6" />
<line x1="284.09" y1="150.60" x2="284.09" y2="151.80" stroke="#000" stroke-width="0.6" />
<line x1="285.93" y1="150.60" x2="285.93" y2="151.80" stroke="#000" stroke-width="0.6" />
<line x1="287.36" y1="150.60" x2="287.36" y2="151.80" stroke="#000" stroke-width="0.6" />
<line x1="288.53" y1="150.60" x2="288.53" y2="151.80" stroke="#000" stroke-width="0.6" />
<line x1="289.51" y1="150.60" x2="289.51" y2="151.80" stroke="#000" stroke-width="0.6" />
<line x1="290.37" y1="150.60" x2="290.37" y2="151.80" stroke="#000" stroke-width="0.6" />
<line x1="291.12" y1="150.60" x2="291.12" y2="151.80" stroke="#000" stroke-width="0.6" />
<line x1="231.00" y1="89.50" x2="232.80" y2="89.50" stroke="#000" stroke-width="0.8" />
<line x1="231.00" y1="111.50" x2="232.80" y2="111.50" stroke="#000" stroke-width="0.8" />
<line x1="231.00" y1="131.00" x2="232.80" y2="131.00" stroke="#000" stroke-width="0.8" />
<rect x="232.80" y="82.40" width="59.00" height="68.20" fill="none" stroke="#000" stroke-width="1.25"/>
<text x="235.70" y="96.40" font-size="11" >70</text>
<line x1="247.80" y1="117.60" x2="281.00" y2="117.60" stroke="#000" stroke-width="1.3" />
<line x1="247.80" y1="116.10" x2="247.80" y2="119.10" stroke="#000" stroke-width="1.4" />
<line x1="281.00" y1="116.10" x2="281.00" y2="119.10" stroke="#000" stroke-width="1.4" />
<path d="M233.60,150.00 C237.20,150.00 253.43,150.38 257.60,150.00 C261.77,149.62 260.54,148.31 261.40,147.50 C262.25,146.69 262.73,145.89 263.30,144.60 C263.87,143.31 264.74,140.04 265.20,138.90 C265.66,137.76 266.02,138.51 266.40,137.00 C266.77,135.49 267.31,131.28 267.70,128.80 C268.09,126.33 268.62,120.12 269.00,120.50 C269.38,120.88 269.82,130.34 270.20,131.30 C270.57,132.26 271.05,128.81 271.50,126.90 C271.95,125.00 272.72,117.66 273.20,118.60 C273.68,119.54 274.10,135.39 274.70,133.20 C275.30,131.01 276.48,103.91 277.20,104.00 C277.92,104.09 278.96,130.47 279.50,133.80 C280.04,137.13 280.38,133.46 280.80,126.20 C281.22,118.94 281.85,88.82 282.30,85.40 C282.75,81.98 283.43,95.38 283.80,103.40 C284.18,111.43 284.45,131.91 284.80,138.90 C285.15,145.89 285.17,148.34 286.10,150.00 C287.03,151.66 290.26,150.00 291.00,150.00" fill="none" stroke="#000" stroke-width="1.35" stroke-linejoin="round" />
<line x1="297.60" y1="150.60" x2="297.60" y2="152.80" stroke="#000" stroke-width="0.9" />
<line x1="312.30" y1="150.60" x2="312.30" y2="152.80" stroke="#000" stroke-width="0.9" />
<line x1="327.00" y1="150.60" x2="327.00" y2="152.80" stroke="#000" stroke-width="0.9" />
<line x1="341.70" y1="150.60" x2="341.70" y2="152.80" stroke="#000" stroke-width="0.9" />
<line x1="356.40" y1="150.60" x2="356.40" y2="152.80" stroke="#000" stroke-width="0.9" />
<line x1="302.02" y1="150.60" x2="302.02" y2="151.80" stroke="#000" stroke-width="0.6" />
<line x1="304.61" y1="150.60" x2="304.61" y2="151.80" stroke="#000" stroke-width="0.6" />
<line x1="306.45" y1="150.60" x2="306.45" y2="151.80" stroke="#000" stroke-width="0.6" />
<line x1="307.88" y1="150.60" x2="307.88" y2="151.80" stroke="#000" stroke-width="0.6" />
<line x1="309.04" y1="150.60" x2="309.04" y2="151.80" stroke="#000" stroke-width="0.6" />
<line x1="310.02" y1="150.60" x2="310.02" y2="151.80" stroke="#000" stroke-width="0.6" />
<line x1="310.87" y1="150.60" x2="310.87" y2="151.80" stroke="#000" stroke-width="0.6" />
<line x1="311.62" y1="150.60" x2="311.62" y2="151.80" stroke="#000" stroke-width="0.6" />
<line x1="316.72" y1="150.60" x2="316.72" y2="151.80" stroke="#000" stroke-width="0.6" />
<line x1="319.31" y1="150.60" x2="319.31" y2="151.80" stroke="#000" stroke-width="0.6" />
<line x1="321.15" y1="150.60" x2="321.15" y2="151.80" stroke="#000" stroke-width="0.6" />
<line x1="322.58" y1="150.60" x2="322.58" y2="151.80" stroke="#000" stroke-width="0.6" />
<line x1="323.74" y1="150.60" x2="323.74" y2="151.80" stroke="#000" stroke-width="0.6" />
<line x1="324.72" y1="150.60" x2="324.72" y2="151.80" stroke="#000" stroke-width="0.6" />
<line x1="325.57" y1="150.60" x2="325.57" y2="151.80" stroke="#000" stroke-width="0.6" />
<line x1="326.32" y1="150.60" x2="326.32" y2="151.80" stroke="#000" stroke-width="0.6" />
<line x1="331.42" y1="150.60" x2="331.42" y2="151.80" stroke="#000" stroke-width="0.6" />
<line x1="334.01" y1="150.60" x2="334.01" y2="151.80" stroke="#000" stroke-width="0.6" />
<line x1="335.85" y1="150.60" x2="335.85" y2="151.80" stroke="#000" stroke-width="0.6" />
<line x1="337.28" y1="150.60" x2="337.28" y2="151.80" stroke="#000" stroke-width="0.6" />
<line x1="338.44" y1="150.60" x2="338.44" y2="151.80" stroke="#000" stroke-width="0.6" />
<line x1="339.42" y1="150.60" x2="339.42" y2="151.80" stroke="#000" stroke-width="0.6" />
<line x1="340.27" y1="150.60" x2="340.27" y2="151.80" stroke="#000" stroke-width="0.6" />
<line x1="341.02" y1="150.60" x2="341.02" y2="151.80" stroke="#000" stroke-width="0.6" />
<line x1="346.12" y1="150.60" x2="346.12" y2="151.80" stroke="#000" stroke-width="0.6" />
<line x1="348.71" y1="150.60" x2="348.71" y2="151.80" stroke="#000" stroke-width="0.6" />
<line x1="350.55" y1="150.60" x2="350.55" y2="151.80" stroke="#000" stroke-width="0.6" />
<line x1="351.98" y1="150.60" x2="351.98" y2="151.80" stroke="#000" stroke-width="0.6" />
<line x1="353.14" y1="150.60" x2="353.14" y2="151.80" stroke="#000" stroke-width="0.6" />
<line x1="354.12" y1="150.60" x2="354.12" y2="151.80" stroke="#000" stroke-width="0.6" />
<line x1="354.97" y1="150.60" x2="354.97" y2="151.80" stroke="#000" stroke-width="0.6" />
<line x1="355.72" y1="150.60" x2="355.72" y2="151.80" stroke="#000" stroke-width="0.6" />
<line x1="295.80" y1="96.00" x2="297.60" y2="96.00" stroke="#000" stroke-width="0.8" />
<line x1="295.80" y1="115.00" x2="297.60" y2="115.00" stroke="#000" stroke-width="0.8" />
<line x1="295.80" y1="133.00" x2="297.60" y2="133.00" stroke="#000" stroke-width="0.8" />
<rect x="297.60" y="82.40" width="58.80" height="68.20" fill="none" stroke="#000" stroke-width="1.25"/>
<text x="299.80" y="96.40" font-size="11" >66</text>
<line x1="312.40" y1="117.60" x2="345.40" y2="117.60" stroke="#000" stroke-width="1.3" />
<line x1="312.40" y1="116.10" x2="312.40" y2="119.10" stroke="#000" stroke-width="1.4" />
<line x1="345.40" y1="116.10" x2="345.40" y2="119.10" stroke="#000" stroke-width="1.4" />
<path d="M298.40,150.00 C302.08,150.00 318.89,150.42 322.90,150.00 C326.90,149.58 324.53,147.72 325.10,147.20 C325.67,146.67 326.19,146.50 326.70,146.50 C327.21,146.50 327.93,147.95 328.50,147.20 C329.07,146.45 329.96,143.51 330.50,141.50 C331.04,139.49 331.63,136.52 332.10,133.80 C332.57,131.09 333.18,122.92 333.60,123.40 C334.02,123.88 334.33,136.93 334.90,137.00 C335.47,137.07 336.77,123.99 337.40,123.90 C338.03,123.81 338.67,137.00 339.10,136.40 C339.54,135.80 339.87,126.47 340.30,119.90 C340.74,113.33 341.43,89.55 342.00,92.60 C342.57,95.64 343.59,137.81 344.10,140.20 C344.61,142.58 344.96,116.69 345.40,108.50 C345.83,100.31 346.52,84.46 347.00,85.60 C347.48,86.74 348.21,106.96 348.60,116.10 C348.99,125.23 349.23,141.41 349.60,146.50 C349.98,151.59 350.20,149.47 351.10,150.00 C352.00,150.53 354.92,150.00 355.60,150.00" fill="none" stroke="#000" stroke-width="1.35" stroke-linejoin="round" />
<line x1="14.60" y1="288.80" x2="14.60" y2="291.00" stroke="#000" stroke-width="0.9" />
<line x1="29.20" y1="288.80" x2="29.20" y2="291.00" stroke="#000" stroke-width="0.9" />
<line x1="43.80" y1="288.80" x2="43.80" y2="291.00" stroke="#000" stroke-width="0.9" />
<line x1="58.40" y1="288.80" x2="58.40" y2="291.00" stroke="#000" stroke-width="0.9" />
<line x1="73.00" y1="288.80" x2="73.00" y2="291.00" stroke="#000" stroke-width="0.9" />
<line x1="18.99" y1="288.80" x2="18.99" y2="290.00" stroke="#000" stroke-width="0.6" />
<line x1="21.56" y1="288.80" x2="21.56" y2="290.00" stroke="#000" stroke-width="0.6" />
<line x1="23.39" y1="288.80" x2="23.39" y2="290.00" stroke="#000" stroke-width="0.6" />
<line x1="24.81" y1="288.80" x2="24.81" y2="290.00" stroke="#000" stroke-width="0.6" />
<line x1="25.96" y1="288.80" x2="25.96" y2="290.00" stroke="#000" stroke-width="0.6" />
<line x1="26.94" y1="288.80" x2="26.94" y2="290.00" stroke="#000" stroke-width="0.6" />
<line x1="27.78" y1="288.80" x2="27.78" y2="290.00" stroke="#000" stroke-width="0.6" />
<line x1="28.53" y1="288.80" x2="28.53" y2="290.00" stroke="#000" stroke-width="0.6" />
<line x1="33.59" y1="288.80" x2="33.59" y2="290.00" stroke="#000" stroke-width="0.6" />
<line x1="36.16" y1="288.80" x2="36.16" y2="290.00" stroke="#000" stroke-width="0.6" />
<line x1="37.99" y1="288.80" x2="37.99" y2="290.00" stroke="#000" stroke-width="0.6" />
<line x1="39.41" y1="288.80" x2="39.41" y2="290.00" stroke="#000" stroke-width="0.6" />
<line x1="40.56" y1="288.80" x2="40.56" y2="290.00" stroke="#000" stroke-width="0.6" />
<line x1="41.54" y1="288.80" x2="41.54" y2="290.00" stroke="#000" stroke-width="0.6" />
<line x1="42.38" y1="288.80" x2="42.38" y2="290.00" stroke="#000" stroke-width="0.6" />
<line x1="43.13" y1="288.80" x2="43.13" y2="290.00" stroke="#000" stroke-width="0.6" />
<line x1="48.19" y1="288.80" x2="48.19" y2="290.00" stroke="#000" stroke-width="0.6" />
<line x1="50.76" y1="288.80" x2="50.76" y2="290.00" stroke="#000" stroke-width="0.6" />
<line x1="52.59" y1="288.80" x2="52.59" y2="290.00" stroke="#000" stroke-width="0.6" />
<line x1="54.01" y1="288.80" x2="54.01" y2="290.00" stroke="#000" stroke-width="0.6" />
<line x1="55.16" y1="288.80" x2="55.16" y2="290.00" stroke="#000" stroke-width="0.6" />
<line x1="56.14" y1="288.80" x2="56.14" y2="290.00" stroke="#000" stroke-width="0.6" />
<line x1="56.98" y1="288.80" x2="56.98" y2="290.00" stroke="#000" stroke-width="0.6" />
<line x1="57.73" y1="288.80" x2="57.73" y2="290.00" stroke="#000" stroke-width="0.6" />
<line x1="62.79" y1="288.80" x2="62.79" y2="290.00" stroke="#000" stroke-width="0.6" />
<line x1="65.36" y1="288.80" x2="65.36" y2="290.00" stroke="#000" stroke-width="0.6" />
<line x1="67.19" y1="288.80" x2="67.19" y2="290.00" stroke="#000" stroke-width="0.6" />
<line x1="68.61" y1="288.80" x2="68.61" y2="290.00" stroke="#000" stroke-width="0.6" />
<line x1="69.76" y1="288.80" x2="69.76" y2="290.00" stroke="#000" stroke-width="0.6" />
<line x1="70.74" y1="288.80" x2="70.74" y2="290.00" stroke="#000" stroke-width="0.6" />
<line x1="71.58" y1="288.80" x2="71.58" y2="290.00" stroke="#000" stroke-width="0.6" />
<line x1="72.33" y1="288.80" x2="72.33" y2="290.00" stroke="#000" stroke-width="0.6" />
<rect x="14.60" y="219.50" width="58.40" height="69.30" fill="none" stroke="#000" stroke-width="1.25"/>
<text x="16.90" y="233.00" font-size="11" >92</text>
<line x1="32.70" y1="252.00" x2="61.80" y2="252.00" stroke="#000" stroke-width="1.3" />
<line x1="32.70" y1="250.50" x2="32.70" y2="253.50" stroke="#000" stroke-width="1.4" />
<line x1="61.80" y1="250.50" x2="61.80" y2="253.50" stroke="#000" stroke-width="1.4" />
<path d="M15.40,288.20 C19.45,288.20 37.99,290.48 42.40,288.20 C46.81,285.92 44.20,276.94 44.80,273.00 C45.40,269.06 46.01,263.97 46.40,261.90 C46.79,259.83 46.99,265.11 47.40,259.20 C47.80,253.29 48.61,223.78 49.10,222.50 C49.59,221.22 50.21,249.65 50.70,250.70 C51.20,251.75 51.75,226.94 52.40,229.50 C53.05,232.06 54.33,264.77 55.00,267.80 C55.67,270.83 56.30,248.03 56.90,249.70 C57.50,251.36 58.41,276.68 59.00,278.90 C59.59,281.12 60.27,264.00 60.80,264.50 C61.32,265.00 61.95,280.10 62.50,282.20 C63.05,284.30 64.00,278.89 64.50,278.50 C65.00,278.11 65.32,278.15 65.80,279.60 C66.28,281.06 66.74,286.91 67.70,288.20 C68.66,289.49 71.53,288.20 72.20,288.20" fill="none" stroke="#000" stroke-width="1.35" stroke-linejoin="round" />
<line x1="106.40" y1="244.80" x2="106.40" y2="247.00" stroke="#000" stroke-width="0.9" />
<line x1="120.97" y1="244.80" x2="120.97" y2="247.00" stroke="#000" stroke-width="0.9" />
<line x1="135.55" y1="244.80" x2="135.55" y2="247.00" stroke="#000" stroke-width="0.9" />
<line x1="150.12" y1="244.80" x2="150.12" y2="247.00" stroke="#000" stroke-width="0.9" />
<line x1="164.70" y1="244.80" x2="164.70" y2="247.00" stroke="#000" stroke-width="0.9" />
<line x1="110.79" y1="244.80" x2="110.79" y2="246.00" stroke="#000" stroke-width="0.6" />
<line x1="113.35" y1="244.80" x2="113.35" y2="246.00" stroke="#000" stroke-width="0.6" />
<line x1="115.17" y1="244.80" x2="115.17" y2="246.00" stroke="#000" stroke-width="0.6" />
<line x1="116.59" y1="244.80" x2="116.59" y2="246.00" stroke="#000" stroke-width="0.6" />
<line x1="117.74" y1="244.80" x2="117.74" y2="246.00" stroke="#000" stroke-width="0.6" />
<line x1="118.72" y1="244.80" x2="118.72" y2="246.00" stroke="#000" stroke-width="0.6" />
<line x1="119.56" y1="244.80" x2="119.56" y2="246.00" stroke="#000" stroke-width="0.6" />
<line x1="120.30" y1="244.80" x2="120.30" y2="246.00" stroke="#000" stroke-width="0.6" />
<line x1="125.36" y1="244.80" x2="125.36" y2="246.00" stroke="#000" stroke-width="0.6" />
<line x1="127.93" y1="244.80" x2="127.93" y2="246.00" stroke="#000" stroke-width="0.6" />
<line x1="129.75" y1="244.80" x2="129.75" y2="246.00" stroke="#000" stroke-width="0.6" />
<line x1="131.16" y1="244.80" x2="131.16" y2="246.00" stroke="#000" stroke-width="0.6" />
<line x1="132.31" y1="244.80" x2="132.31" y2="246.00" stroke="#000" stroke-width="0.6" />
<line x1="133.29" y1="244.80" x2="133.29" y2="246.00" stroke="#000" stroke-width="0.6" />
<line x1="134.14" y1="244.80" x2="134.14" y2="246.00" stroke="#000" stroke-width="0.6" />
<line x1="134.88" y1="244.80" x2="134.88" y2="246.00" stroke="#000" stroke-width="0.6" />
<line x1="139.94" y1="244.80" x2="139.94" y2="246.00" stroke="#000" stroke-width="0.6" />
<line x1="142.50" y1="244.80" x2="142.50" y2="246.00" stroke="#000" stroke-width="0.6" />
<line x1="144.32" y1="244.80" x2="144.32" y2="246.00" stroke="#000" stroke-width="0.6" />
<line x1="145.74" y1="244.80" x2="145.74" y2="246.00" stroke="#000" stroke-width="0.6" />
<line x1="146.89" y1="244.80" x2="146.89" y2="246.00" stroke="#000" stroke-width="0.6" />
<line x1="147.87" y1="244.80" x2="147.87" y2="246.00" stroke="#000" stroke-width="0.6" />
<line x1="148.71" y1="244.80" x2="148.71" y2="246.00" stroke="#000" stroke-width="0.6" />
<line x1="149.45" y1="244.80" x2="149.45" y2="246.00" stroke="#000" stroke-width="0.6" />
<line x1="154.51" y1="244.80" x2="154.51" y2="246.00" stroke="#000" stroke-width="0.6" />
<line x1="157.08" y1="244.80" x2="157.08" y2="246.00" stroke="#000" stroke-width="0.6" />
<line x1="158.90" y1="244.80" x2="158.90" y2="246.00" stroke="#000" stroke-width="0.6" />
<line x1="160.31" y1="244.80" x2="160.31" y2="246.00" stroke="#000" stroke-width="0.6" />
<line x1="161.46" y1="244.80" x2="161.46" y2="246.00" stroke="#000" stroke-width="0.6" />
<line x1="162.44" y1="244.80" x2="162.44" y2="246.00" stroke="#000" stroke-width="0.6" />
<line x1="163.29" y1="244.80" x2="163.29" y2="246.00" stroke="#000" stroke-width="0.6" />
<line x1="164.03" y1="244.80" x2="164.03" y2="246.00" stroke="#000" stroke-width="0.6" />
<line x1="104.60" y1="182.00" x2="106.40" y2="182.00" stroke="#000" stroke-width="0.8" />
<line x1="104.60" y1="202.70" x2="106.40" y2="202.70" stroke="#000" stroke-width="0.8" />
<line x1="104.60" y1="224.10" x2="106.40" y2="224.10" stroke="#000" stroke-width="0.8" />
<line x1="104.60" y1="244.50" x2="106.40" y2="244.50" stroke="#000" stroke-width="0.8" />
<text x="104.80" y="183.90" font-size="5.8" text-anchor="end" >15</text>
<text x="104.80" y="204.60" font-size="5.8" text-anchor="end" >10</text>
<text x="104.80" y="226.00" font-size="5.8" text-anchor="end" >5</text>
<text x="104.80" y="246.40" font-size="5.8" text-anchor="end" >0</text>
<rect x="106.40" y="174.90" width="58.30" height="69.90" fill="none" stroke="#000" stroke-width="1.25"/>
<text x="109.10" y="188.10" font-size="11" >76</text>
<line x1="124.60" y1="207.20" x2="154.70" y2="207.20" stroke="#000" stroke-width="1.3" />
<line x1="124.60" y1="205.70" x2="124.60" y2="208.70" stroke="#000" stroke-width="1.4" />
<line x1="154.70" y1="205.70" x2="154.70" y2="208.70" stroke="#000" stroke-width="1.4" />
<path d="M107.20,244.20 C111.13,244.20 129.25,245.09 133.40,244.20 C137.56,243.32 134.42,239.38 134.90,238.30 C135.38,237.22 136.15,238.94 136.60,237.00 C137.05,235.06 137.57,227.92 137.90,225.40 C138.23,222.88 138.41,221.56 138.80,220.20 C139.19,218.83 139.91,221.25 140.50,216.30 C141.09,211.35 142.02,186.81 142.70,187.20 C143.38,187.59 144.31,220.07 145.00,218.90 C145.69,217.73 146.62,180.47 147.30,179.40 C147.98,178.34 148.87,212.19 149.50,211.80 C150.13,211.41 150.81,174.37 151.50,176.80 C152.19,179.23 153.36,227.13 154.10,228.00 C154.84,228.87 155.72,181.25 156.40,182.60 C157.08,183.95 157.79,227.76 158.60,237.00 C159.41,246.24 161.01,243.12 161.80,244.20 C162.59,245.28 163.58,244.20 163.90,244.20" fill="none" stroke="#000" stroke-width="1.35" stroke-linejoin="round" />
<line x1="168.60" y1="245.00" x2="168.60" y2="247.20" stroke="#000" stroke-width="0.9" />
<line x1="183.40" y1="245.00" x2="183.40" y2="247.20" stroke="#000" stroke-width="0.9" />
<line x1="198.20" y1="245.00" x2="198.20" y2="247.20" stroke="#000" stroke-width="0.9" />
<line x1="213.00" y1="245.00" x2="213.00" y2="247.20" stroke="#000" stroke-width="0.9" />
<line x1="227.80" y1="245.00" x2="227.80" y2="247.20" stroke="#000" stroke-width="0.9" />
<line x1="173.05" y1="245.00" x2="173.05" y2="246.20" stroke="#000" stroke-width="0.6" />
<line x1="175.66" y1="245.00" x2="175.66" y2="246.20" stroke="#000" stroke-width="0.6" />
<line x1="177.51" y1="245.00" x2="177.51" y2="246.20" stroke="#000" stroke-width="0.6" />
<line x1="178.95" y1="245.00" x2="178.95" y2="246.20" stroke="#000" stroke-width="0.6" />
<line x1="180.11" y1="245.00" x2="180.11" y2="246.20" stroke="#000" stroke-width="0.6" />
<line x1="181.11" y1="245.00" x2="181.11" y2="246.20" stroke="#000" stroke-width="0.6" />
<line x1="181.96" y1="245.00" x2="181.96" y2="246.20" stroke="#000" stroke-width="0.6" />
<line x1="182.72" y1="245.00" x2="182.72" y2="246.20" stroke="#000" stroke-width="0.6" />
<line x1="187.85" y1="245.00" x2="187.85" y2="246.20" stroke="#000" stroke-width="0.6" />
<line x1="190.46" y1="245.00" x2="190.46" y2="246.20" stroke="#000" stroke-width="0.6" />
<line x1="192.31" y1="245.00" x2="192.31" y2="246.20" stroke="#000" stroke-width="0.6" />
<line x1="193.75" y1="245.00" x2="193.75" y2="246.20" stroke="#000" stroke-width="0.6" />
<line x1="194.91" y1="245.00" x2="194.91" y2="246.20" stroke="#000" stroke-width="0.6" />
<line x1="195.91" y1="245.00" x2="195.91" y2="246.20" stroke="#000" stroke-width="0.6" />
<line x1="196.76" y1="245.00" x2="196.76" y2="246.20" stroke="#000" stroke-width="0.6" />
<line x1="197.52" y1="245.00" x2="197.52" y2="246.20" stroke="#000" stroke-width="0.6" />
<line x1="202.65" y1="245.00" x2="202.65" y2="246.20" stroke="#000" stroke-width="0.6" />
<line x1="205.26" y1="245.00" x2="205.26" y2="246.20" stroke="#000" stroke-width="0.6" />
<line x1="207.11" y1="245.00" x2="207.11" y2="246.20" stroke="#000" stroke-width="0.6" />
<line x1="208.55" y1="245.00" x2="208.55" y2="246.20" stroke="#000" stroke-width="0.6" />
<line x1="209.71" y1="245.00" x2="209.71" y2="246.20" stroke="#000" stroke-width="0.6" />
<line x1="210.71" y1="245.00" x2="210.71" y2="246.20" stroke="#000" stroke-width="0.6" />
<line x1="211.56" y1="245.00" x2="211.56" y2="246.20" stroke="#000" stroke-width="0.6" />
<line x1="212.32" y1="245.00" x2="212.32" y2="246.20" stroke="#000" stroke-width="0.6" />
<line x1="217.45" y1="245.00" x2="217.45" y2="246.20" stroke="#000" stroke-width="0.6" />
<line x1="220.06" y1="245.00" x2="220.06" y2="246.20" stroke="#000" stroke-width="0.6" />
<line x1="221.91" y1="245.00" x2="221.91" y2="246.20" stroke="#000" stroke-width="0.6" />
<line x1="223.35" y1="245.00" x2="223.35" y2="246.20" stroke="#000" stroke-width="0.6" />
<line x1="224.51" y1="245.00" x2="224.51" y2="246.20" stroke="#000" stroke-width="0.6" />
<line x1="225.51" y1="245.00" x2="225.51" y2="246.20" stroke="#000" stroke-width="0.6" />
<line x1="226.36" y1="245.00" x2="226.36" y2="246.20" stroke="#000" stroke-width="0.6" />
<line x1="227.12" y1="245.00" x2="227.12" y2="246.20" stroke="#000" stroke-width="0.6" />
<line x1="166.80" y1="185.00" x2="168.60" y2="185.00" stroke="#000" stroke-width="0.8" />
<line x1="166.80" y1="200.00" x2="168.60" y2="200.00" stroke="#000" stroke-width="0.8" />
<line x1="166.80" y1="215.00" x2="168.60" y2="215.00" stroke="#000" stroke-width="0.8" />
<line x1="166.80" y1="230.00" x2="168.60" y2="230.00" stroke="#000" stroke-width="0.8" />
<rect x="168.60" y="175.50" width="59.20" height="69.50" fill="none" stroke="#000" stroke-width="1.25"/>
<text x="171.80" y="188.50" font-size="11" >64</text>
<line x1="187.60" y1="207.50" x2="217.00" y2="207.50" stroke="#000" stroke-width="1.3" />
<line x1="187.60" y1="206.00" x2="187.60" y2="209.00" stroke="#000" stroke-width="1.4" />
<line x1="217.00" y1="206.00" x2="217.00" y2="209.00" stroke="#000" stroke-width="1.4" />
<path d="M169.40,244.40 C173.75,244.40 193.72,245.31 198.40,244.40 C203.08,243.49 200.01,239.61 200.60,238.30 C201.19,237.00 201.85,237.45 202.30,235.70 C202.75,233.94 203.13,229.31 203.60,226.60 C204.06,223.88 204.78,217.50 205.40,217.60 C206.02,217.70 207.07,228.28 207.70,227.30 C208.33,226.33 209.06,210.91 209.60,211.10 C210.14,211.29 210.58,232.32 211.30,228.60 C212.02,224.88 213.62,186.60 214.40,186.30 C215.18,186.00 215.85,227.92 216.50,226.60 C217.15,225.28 218.11,176.53 218.70,177.50 C219.28,178.47 219.72,223.06 220.40,233.10 C221.08,243.13 222.21,242.71 223.20,244.40 C224.19,246.09 226.43,244.40 227.00,244.40" fill="none" stroke="#000" stroke-width="1.35" stroke-linejoin="round" />
<line x1="232.60" y1="245.00" x2="232.60" y2="247.20" stroke="#000" stroke-width="0.9" />
<line x1="247.07" y1="245.00" x2="247.07" y2="247.20" stroke="#000" stroke-width="0.9" />
<line x1="261.55" y1="245.00" x2="261.55" y2="247.20" stroke="#000" stroke-width="0.9" />
<line x1="276.02" y1="245.00" x2="276.02" y2="247.20" stroke="#000" stroke-width="0.9" />
<line x1="290.50" y1="245.00" x2="290.50" y2="247.20" stroke="#000" stroke-width="0.9" />
<line x1="236.96" y1="245.00" x2="236.96" y2="246.20" stroke="#000" stroke-width="0.6" />
<line x1="239.50" y1="245.00" x2="239.50" y2="246.20" stroke="#000" stroke-width="0.6" />
<line x1="241.31" y1="245.00" x2="241.31" y2="246.20" stroke="#000" stroke-width="0.6" />
<line x1="242.72" y1="245.00" x2="242.72" y2="246.20" stroke="#000" stroke-width="0.6" />
<line x1="243.86" y1="245.00" x2="243.86" y2="246.20" stroke="#000" stroke-width="0.6" />
<line x1="244.83" y1="245.00" x2="244.83" y2="246.20" stroke="#000" stroke-width="0.6" />
<line x1="245.67" y1="245.00" x2="245.67" y2="246.20" stroke="#000" stroke-width="0.6" />
<line x1="246.41" y1="245.00" x2="246.41" y2="246.20" stroke="#000" stroke-width="0.6" />
<line x1="251.43" y1="245.00" x2="251.43" y2="246.20" stroke="#000" stroke-width="0.6" />
<line x1="253.98" y1="245.00" x2="253.98" y2="246.20" stroke="#000" stroke-width="0.6" />
<line x1="255.79" y1="245.00" x2="255.79" y2="246.20" stroke="#000" stroke-width="0.6" />
<line x1="257.19" y1="245.00" x2="257.19" y2="246.20" stroke="#000" stroke-width="0.6" />
<line x1="258.34" y1="245.00" x2="258.34" y2="246.20" stroke="#000" stroke-width="0.6" />
<line x1="259.31" y1="245.00" x2="259.31" y2="246.20" stroke="#000" stroke-width="0.6" />
<line x1="260.15" y1="245.00" x2="260.15" y2="246.20" stroke="#000" stroke-width="0.6" />
<line x1="260.88" y1="245.00" x2="260.88" y2="246.20" stroke="#000" stroke-width="0.6" />
<line x1="265.91" y1="245.00" x2="265.91" y2="246.20" stroke="#000" stroke-width="0.6" />
<line x1="268.45" y1="245.00" x2="268.45" y2="246.20" stroke="#000" stroke-width="0.6" />
<line x1="270.26" y1="245.00" x2="270.26" y2="246.20" stroke="#000" stroke-width="0.6" />
<line x1="271.67" y1="245.00" x2="271.67" y2="246.20" stroke="#000" stroke-width="0.6" />
<line x1="272.81" y1="245.00" x2="272.81" y2="246.20" stroke="#000" stroke-width="0.6" />
<line x1="273.78" y1="245.00" x2="273.78" y2="246.20" stroke="#000" stroke-width="0.6" />
<line x1="274.62" y1="245.00" x2="274.62" y2="246.20" stroke="#000" stroke-width="0.6" />
<line x1="275.36" y1="245.00" x2="275.36" y2="246.20" stroke="#000" stroke-width="0.6" />
<line x1="280.38" y1="245.00" x2="280.38" y2="246.20" stroke="#000" stroke-width="0.6" />
<line x1="282.93" y1="245.00" x2="282.93" y2="246.20" stroke="#000" stroke-width="0.6" />
<line x1="284.74" y1="245.00" x2="284.74" y2="246.20" stroke="#000" stroke-width="0.6" />
<line x1="286.14" y1="245.00" x2="286.14" y2="246.20" stroke="#000" stroke-width="0.6" />
<line x1="287.29" y1="245.00" x2="287.29" y2="246.20" stroke="#000" stroke-width="0.6" />
<line x1="288.26" y1="245.00" x2="288.26" y2="246.20" stroke="#000" stroke-width="0.6" />
<line x1="289.10" y1="245.00" x2="289.10" y2="246.20" stroke="#000" stroke-width="0.6" />
<line x1="289.83" y1="245.00" x2="289.83" y2="246.20" stroke="#000" stroke-width="0.6" />
<line x1="230.80" y1="187.00" x2="232.60" y2="187.00" stroke="#000" stroke-width="0.8" />
<line x1="230.80" y1="207.00" x2="232.60" y2="207.00" stroke="#000" stroke-width="0.8" />
<line x1="230.80" y1="227.00" x2="232.60" y2="227.00" stroke="#000" stroke-width="0.8" />
<rect x="232.60" y="175.50" width="57.90" height="69.50" fill="none" stroke="#000" stroke-width="1.25"/>
<text x="235.20" y="188.50" font-size="11" >36</text>
<line x1="251.00" y1="207.50" x2="280.80" y2="207.50" stroke="#000" stroke-width="1.3" />
<line x1="251.00" y1="206.00" x2="251.00" y2="209.00" stroke="#000" stroke-width="1.4" />
<line x1="280.80" y1="206.00" x2="280.80" y2="209.00" stroke="#000" stroke-width="1.4" />
<path d="M233.40,244.40 C237.89,244.40 258.43,244.84 263.30,244.40 C268.18,243.97 265.03,242.41 265.90,241.50 C266.77,240.59 268.38,238.68 269.10,238.30 C269.82,237.93 270.16,239.39 270.70,239.00 C271.24,238.61 272.12,235.52 272.70,235.70 C273.28,235.88 274.08,241.17 274.60,240.20 C275.12,239.22 275.66,232.68 276.20,229.20 C276.74,225.72 277.64,216.31 278.20,217.00 C278.75,217.69 279.48,234.88 279.90,233.80 C280.32,232.72 280.58,218.35 281.00,209.80 C281.42,201.25 282.19,174.07 282.70,176.80 C283.21,179.53 283.81,218.00 284.40,228.00 C284.98,238.00 286.06,241.04 286.60,243.50 C287.14,245.96 287.54,244.27 288.00,244.40 C288.46,244.53 289.44,244.40 289.70,244.40" fill="none" stroke="#000" stroke-width="1.35" stroke-linejoin="round" />
<line x1="296.50" y1="244.50" x2="296.50" y2="246.70" stroke="#000" stroke-width="0.9" />
<line x1="311.07" y1="244.50" x2="311.07" y2="246.70" stroke="#000" stroke-width="0.9" />
<line x1="325.65" y1="244.50" x2="325.65" y2="246.70" stroke="#000" stroke-width="0.9" />
<line x1="340.23" y1="244.50" x2="340.23" y2="246.70" stroke="#000" stroke-width="0.9" />
<line x1="354.80" y1="244.50" x2="354.80" y2="246.70" stroke="#000" stroke-width="0.9" />
<line x1="300.89" y1="244.50" x2="300.89" y2="245.70" stroke="#000" stroke-width="0.6" />
<line x1="303.45" y1="244.50" x2="303.45" y2="245.70" stroke="#000" stroke-width="0.6" />
<line x1="305.27" y1="244.50" x2="305.27" y2="245.70" stroke="#000" stroke-width="0.6" />
<line x1="306.69" y1="244.50" x2="306.69" y2="245.70" stroke="#000" stroke-width="0.6" />
<line x1="307.84" y1="244.50" x2="307.84" y2="245.70" stroke="#000" stroke-width="0.6" />
<line x1="308.82" y1="244.50" x2="308.82" y2="245.70" stroke="#000" stroke-width="0.6" />
<line x1="309.66" y1="244.50" x2="309.66" y2="245.70" stroke="#000" stroke-width="0.6" />
<line x1="310.40" y1="244.50" x2="310.40" y2="245.70" stroke="#000" stroke-width="0.6" />
<line x1="315.46" y1="244.50" x2="315.46" y2="245.70" stroke="#000" stroke-width="0.6" />
<line x1="318.03" y1="244.50" x2="318.03" y2="245.70" stroke="#000" stroke-width="0.6" />
<line x1="319.85" y1="244.50" x2="319.85" y2="245.70" stroke="#000" stroke-width="0.6" />
<line x1="321.26" y1="244.50" x2="321.26" y2="245.70" stroke="#000" stroke-width="0.6" />
<line x1="322.41" y1="244.50" x2="322.41" y2="245.70" stroke="#000" stroke-width="0.6" />
<line x1="323.39" y1="244.50" x2="323.39" y2="245.70" stroke="#000" stroke-width="0.6" />
<line x1="324.24" y1="244.50" x2="324.24" y2="245.70" stroke="#000" stroke-width="0.6" />
<line x1="324.98" y1="244.50" x2="324.98" y2="245.70" stroke="#000" stroke-width="0.6" />
<line x1="330.04" y1="244.50" x2="330.04" y2="245.70" stroke="#000" stroke-width="0.6" />
<line x1="332.60" y1="244.50" x2="332.60" y2="245.70" stroke="#000" stroke-width="0.6" />
<line x1="334.42" y1="244.50" x2="334.42" y2="245.70" stroke="#000" stroke-width="0.6" />
<line x1="335.84" y1="244.50" x2="335.84" y2="245.70" stroke="#000" stroke-width="0.6" />
<line x1="336.99" y1="244.50" x2="336.99" y2="245.70" stroke="#000" stroke-width="0.6" />
<line x1="337.97" y1="244.50" x2="337.97" y2="245.70" stroke="#000" stroke-width="0.6" />
<line x1="338.81" y1="244.50" x2="338.81" y2="245.70" stroke="#000" stroke-width="0.6" />
<line x1="339.55" y1="244.50" x2="339.55" y2="245.70" stroke="#000" stroke-width="0.6" />
<line x1="344.61" y1="244.50" x2="344.61" y2="245.70" stroke="#000" stroke-width="0.6" />
<line x1="347.18" y1="244.50" x2="347.18" y2="245.70" stroke="#000" stroke-width="0.6" />
<line x1="349.00" y1="244.50" x2="349.00" y2="245.70" stroke="#000" stroke-width="0.6" />
<line x1="350.41" y1="244.50" x2="350.41" y2="245.70" stroke="#000" stroke-width="0.6" />
<line x1="351.56" y1="244.50" x2="351.56" y2="245.70" stroke="#000" stroke-width="0.6" />
<line x1="352.54" y1="244.50" x2="352.54" y2="245.70" stroke="#000" stroke-width="0.6" />
<line x1="353.39" y1="244.50" x2="353.39" y2="245.70" stroke="#000" stroke-width="0.6" />
<line x1="354.13" y1="244.50" x2="354.13" y2="245.70" stroke="#000" stroke-width="0.6" />
<line x1="294.70" y1="180.70" x2="296.50" y2="180.70" stroke="#000" stroke-width="0.8" />
<line x1="294.70" y1="193.00" x2="296.50" y2="193.00" stroke="#000" stroke-width="0.8" />
<line x1="294.70" y1="205.70" x2="296.50" y2="205.70" stroke="#000" stroke-width="0.8" />
<line x1="294.70" y1="218.60" x2="296.50" y2="218.60" stroke="#000" stroke-width="0.8" />
<line x1="294.70" y1="231.20" x2="296.50" y2="231.20" stroke="#000" stroke-width="0.8" />
<rect x="296.50" y="174.60" width="58.30" height="69.90" fill="none" stroke="#000" stroke-width="1.25"/>
<text x="298.80" y="188.10" font-size="11" >23</text>
<line x1="315.00" y1="207.20" x2="344.00" y2="207.20" stroke="#000" stroke-width="1.3" />
<line x1="315.00" y1="205.70" x2="315.00" y2="208.70" stroke="#000" stroke-width="1.4" />
<line x1="344.00" y1="205.70" x2="344.00" y2="208.70" stroke="#000" stroke-width="1.4" />
<path d="M297.30,243.90 C302.91,243.90 328.70,244.35 334.70,243.90 C340.70,243.45 336.56,241.74 337.30,240.90 C338.04,240.06 339.06,240.06 339.60,238.30 C340.14,236.55 340.57,231.63 340.90,229.20 C341.23,226.77 341.47,222.00 341.80,222.10 C342.13,222.20 342.71,231.75 343.10,229.90 C343.49,228.06 343.90,217.77 344.40,209.80 C344.89,201.84 345.81,175.44 346.40,176.80 C346.98,178.17 347.73,209.96 348.30,218.90 C348.87,227.84 349.56,233.01 350.20,236.40 C350.84,239.79 352.11,240.38 352.60,241.50 C353.10,242.62 353.29,243.54 353.50,243.90 C353.71,244.26 353.93,243.90 354.00,243.90" fill="none" stroke="#000" stroke-width="1.35" stroke-linejoin="round" />
<line x1="106.40" y1="324.80" x2="106.40" y2="327.00" stroke="#000" stroke-width="0.9" />
<line x1="120.97" y1="324.80" x2="120.97" y2="327.00" stroke="#000" stroke-width="0.9" />
<line x1="135.55" y1="324.80" x2="135.55" y2="327.00" stroke="#000" stroke-width="0.9" />
<line x1="150.12" y1="324.80" x2="150.12" y2="327.00" stroke="#000" stroke-width="0.9" />
<line x1="164.70" y1="324.80" x2="164.70" y2="327.00" stroke="#000" stroke-width="0.9" />
<line x1="110.79" y1="324.80" x2="110.79" y2="326.00" stroke="#000" stroke-width="0.6" />
<line x1="113.35" y1="324.80" x2="113.35" y2="326.00" stroke="#000" stroke-width="0.6" />
<line x1="115.17" y1="324.80" x2="115.17" y2="326.00" stroke="#000" stroke-width="0.6" />
<line x1="116.59" y1="324.80" x2="116.59" y2="326.00" stroke="#000" stroke-width="0.6" />
<line x1="117.74" y1="324.80" x2="117.74" y2="326.00" stroke="#000" stroke-width="0.6" />
<line x1="118.72" y1="324.80" x2="118.72" y2="326.00" stroke="#000" stroke-width="0.6" />
<line x1="119.56" y1="324.80" x2="119.56" y2="326.00" stroke="#000" stroke-width="0.6" />
<line x1="120.30" y1="324.80" x2="120.30" y2="326.00" stroke="#000" stroke-width="0.6" />
<line x1="125.36" y1="324.80" x2="125.36" y2="326.00" stroke="#000" stroke-width="0.6" />
<line x1="127.93" y1="324.80" x2="127.93" y2="326.00" stroke="#000" stroke-width="0.6" />
<line x1="129.75" y1="324.80" x2="129.75" y2="326.00" stroke="#000" stroke-width="0.6" />
<line x1="131.16" y1="324.80" x2="131.16" y2="326.00" stroke="#000" stroke-width="0.6" />
<line x1="132.31" y1="324.80" x2="132.31" y2="326.00" stroke="#000" stroke-width="0.6" />
<line x1="133.29" y1="324.80" x2="133.29" y2="326.00" stroke="#000" stroke-width="0.6" />
<line x1="134.14" y1="324.80" x2="134.14" y2="326.00" stroke="#000" stroke-width="0.6" />
<line x1="134.88" y1="324.80" x2="134.88" y2="326.00" stroke="#000" stroke-width="0.6" />
<line x1="139.94" y1="324.80" x2="139.94" y2="326.00" stroke="#000" stroke-width="0.6" />
<line x1="142.50" y1="324.80" x2="142.50" y2="326.00" stroke="#000" stroke-width="0.6" />
<line x1="144.32" y1="324.80" x2="144.32" y2="326.00" stroke="#000" stroke-width="0.6" />
<line x1="145.74" y1="324.80" x2="145.74" y2="326.00" stroke="#000" stroke-width="0.6" />
<line x1="146.89" y1="324.80" x2="146.89" y2="326.00" stroke="#000" stroke-width="0.6" />
<line x1="147.87" y1="324.80" x2="147.87" y2="326.00" stroke="#000" stroke-width="0.6" />
<line x1="148.71" y1="324.80" x2="148.71" y2="326.00" stroke="#000" stroke-width="0.6" />
<line x1="149.45" y1="324.80" x2="149.45" y2="326.00" stroke="#000" stroke-width="0.6" />
<line x1="154.51" y1="324.80" x2="154.51" y2="326.00" stroke="#000" stroke-width="0.6" />
<line x1="157.08" y1="324.80" x2="157.08" y2="326.00" stroke="#000" stroke-width="0.6" />
<line x1="158.90" y1="324.80" x2="158.90" y2="326.00" stroke="#000" stroke-width="0.6" />
<line x1="160.31" y1="324.80" x2="160.31" y2="326.00" stroke="#000" stroke-width="0.6" />
<line x1="161.46" y1="324.80" x2="161.46" y2="326.00" stroke="#000" stroke-width="0.6" />
<line x1="162.44" y1="324.80" x2="162.44" y2="326.00" stroke="#000" stroke-width="0.6" />
<line x1="163.29" y1="324.80" x2="163.29" y2="326.00" stroke="#000" stroke-width="0.6" />
<line x1="164.03" y1="324.80" x2="164.03" y2="326.00" stroke="#000" stroke-width="0.6" />
<line x1="104.60" y1="256.50" x2="106.40" y2="256.50" stroke="#000" stroke-width="0.8" />
<line x1="104.60" y1="279.60" x2="106.40" y2="279.60" stroke="#000" stroke-width="0.8" />
<line x1="104.60" y1="302.30" x2="106.40" y2="302.30" stroke="#000" stroke-width="0.8" />
<line x1="104.60" y1="325.00" x2="106.40" y2="325.00" stroke="#000" stroke-width="0.8" />
<text x="104.80" y="258.40" font-size="5.8" text-anchor="end" >60</text>
<text x="104.80" y="281.50" font-size="5.8" text-anchor="end" >40</text>
<text x="104.80" y="304.20" font-size="5.8" text-anchor="end" >20</text>
<text x="104.80" y="326.90" font-size="5.8" text-anchor="end" >0</text>
<text class="n" x="105.90" y="337.40" font-size="5.4" text-anchor="middle" textLength="6.2" lengthAdjust="spacingAndGlyphs">10<tspan dy="-2.4" font-size="3.8">0</tspan></text>
<text class="n" x="118.03" y="337.40" font-size="5.4" text-anchor="middle" textLength="6.2" lengthAdjust="spacingAndGlyphs">10<tspan dy="-2.4" font-size="3.8">1</tspan></text>
<text class="n" x="132.78" y="337.40" font-size="5.4" text-anchor="middle" textLength="6.2" lengthAdjust="spacingAndGlyphs">10<tspan dy="-2.4" font-size="3.8">2</tspan></text>
<text class="n" x="148.28" y="337.40" font-size="5.4" text-anchor="middle" textLength="6.2" lengthAdjust="spacingAndGlyphs">10<tspan dy="-2.4" font-size="3.8">3</tspan></text>
<text class="n" x="161.40" y="337.40" font-size="5.4" text-anchor="middle" textLength="6.2" lengthAdjust="spacingAndGlyphs">10<tspan dy="-2.4" font-size="3.8">4</tspan></text>
<rect x="106.40" y="254.60" width="58.30" height="70.20" fill="none" stroke="#000" stroke-width="1.25"/>
<text x="109.10" y="268.10" font-size="11" >94</text>
<line x1="125.00" y1="286.20" x2="154.70" y2="286.20" stroke="#000" stroke-width="1.3" />
<line x1="125.00" y1="284.70" x2="125.00" y2="287.70" stroke="#000" stroke-width="1.4" />
<line x1="154.70" y1="284.70" x2="154.70" y2="287.70" stroke="#000" stroke-width="1.4" />
<path d="M107.20,324.20 C110.55,324.20 125.61,324.60 129.50,324.20 C133.38,323.80 132.14,322.58 133.10,321.50 C134.06,320.42 135.18,318.65 135.90,317.00 C136.62,315.35 137.31,313.51 137.90,310.50 C138.49,307.49 139.28,298.05 139.80,296.90 C140.33,295.75 141.01,305.80 141.40,302.80 C141.79,299.80 142.10,283.69 142.40,276.90 C142.70,270.10 143.01,257.50 143.40,257.50 C143.79,257.50 144.61,270.60 145.00,276.90 C145.39,283.20 145.58,299.31 146.00,299.50 C146.42,299.69 147.34,279.65 147.80,278.20 C148.27,276.75 148.71,285.15 149.10,289.80 C149.49,294.45 149.89,308.81 150.40,309.20 C150.91,309.59 151.94,291.62 152.50,292.40 C153.06,293.18 153.51,310.62 154.10,314.40 C154.69,318.18 155.64,316.13 156.40,317.60 C157.16,319.07 158.07,323.21 159.20,324.20 C160.32,325.19 163.19,324.20 163.90,324.20" fill="none" stroke="#000" stroke-width="1.35" stroke-linejoin="round" />
<line x1="169.90" y1="325.00" x2="169.90" y2="327.20" stroke="#000" stroke-width="0.9" />
<line x1="184.53" y1="325.00" x2="184.53" y2="327.20" stroke="#000" stroke-width="0.9" />
<line x1="199.15" y1="325.00" x2="199.15" y2="327.20" stroke="#000" stroke-width="0.9" />
<line x1="213.78" y1="325.00" x2="213.78" y2="327.20" stroke="#000" stroke-width="0.9" />
<line x1="228.40" y1="325.00" x2="228.40" y2="327.20" stroke="#000" stroke-width="0.9" />
<line x1="174.30" y1="325.00" x2="174.30" y2="326.20" stroke="#000" stroke-width="0.6" />
<line x1="176.88" y1="325.00" x2="176.88" y2="326.20" stroke="#000" stroke-width="0.6" />
<line x1="178.70" y1="325.00" x2="178.70" y2="326.20" stroke="#000" stroke-width="0.6" />
<line x1="180.12" y1="325.00" x2="180.12" y2="326.20" stroke="#000" stroke-width="0.6" />
<line x1="181.28" y1="325.00" x2="181.28" y2="326.20" stroke="#000" stroke-width="0.6" />
<line x1="182.26" y1="325.00" x2="182.26" y2="326.20" stroke="#000" stroke-width="0.6" />
<line x1="183.11" y1="325.00" x2="183.11" y2="326.20" stroke="#000" stroke-width="0.6" />
<line x1="183.85" y1="325.00" x2="183.85" y2="326.20" stroke="#000" stroke-width="0.6" />
<line x1="188.93" y1="325.00" x2="188.93" y2="326.20" stroke="#000" stroke-width="0.6" />
<line x1="191.50" y1="325.00" x2="191.50" y2="326.20" stroke="#000" stroke-width="0.6" />
<line x1="193.33" y1="325.00" x2="193.33" y2="326.20" stroke="#000" stroke-width="0.6" />
<line x1="194.75" y1="325.00" x2="194.75" y2="326.20" stroke="#000" stroke-width="0.6" />
<line x1="195.90" y1="325.00" x2="195.90" y2="326.20" stroke="#000" stroke-width="0.6" />
<line x1="196.88" y1="325.00" x2="196.88" y2="326.20" stroke="#000" stroke-width="0.6" />
<line x1="197.73" y1="325.00" x2="197.73" y2="326.20" stroke="#000" stroke-width="0.6" />
<line x1="198.48" y1="325.00" x2="198.48" y2="326.20" stroke="#000" stroke-width="0.6" />
<line x1="203.55" y1="325.00" x2="203.55" y2="326.20" stroke="#000" stroke-width="0.6" />
<line x1="206.13" y1="325.00" x2="206.13" y2="326.20" stroke="#000" stroke-width="0.6" />
<line x1="207.95" y1="325.00" x2="207.95" y2="326.20" stroke="#000" stroke-width="0.6" />
<line x1="209.37" y1="325.00" x2="209.37" y2="326.20" stroke="#000" stroke-width="0.6" />
<line x1="210.53" y1="325.00" x2="210.53" y2="326.20" stroke="#000" stroke-width="0.6" />
<line x1="211.51" y1="325.00" x2="211.51" y2="326.20" stroke="#000" stroke-width="0.6" />
<line x1="212.36" y1="325.00" x2="212.36" y2="326.20" stroke="#000" stroke-width="0.6" />
<line x1="213.10" y1="325.00" x2="213.10" y2="326.20" stroke="#000" stroke-width="0.6" />
<line x1="218.18" y1="325.00" x2="218.18" y2="326.20" stroke="#000" stroke-width="0.6" />
<line x1="220.75" y1="325.00" x2="220.75" y2="326.20" stroke="#000" stroke-width="0.6" />
<line x1="222.58" y1="325.00" x2="222.58" y2="326.20" stroke="#000" stroke-width="0.6" />
<line x1="224.00" y1="325.00" x2="224.00" y2="326.20" stroke="#000" stroke-width="0.6" />
<line x1="225.15" y1="325.00" x2="225.15" y2="326.20" stroke="#000" stroke-width="0.6" />
<line x1="226.13" y1="325.00" x2="226.13" y2="326.20" stroke="#000" stroke-width="0.6" />
<line x1="226.98" y1="325.00" x2="226.98" y2="326.20" stroke="#000" stroke-width="0.6" />
<line x1="227.73" y1="325.00" x2="227.73" y2="326.20" stroke="#000" stroke-width="0.6" />
<line x1="168.10" y1="268.00" x2="169.90" y2="268.00" stroke="#000" stroke-width="0.8" />
<line x1="168.10" y1="283.00" x2="169.90" y2="283.00" stroke="#000" stroke-width="0.8" />
<line x1="168.10" y1="297.00" x2="169.90" y2="297.00" stroke="#000" stroke-width="0.8" />
<line x1="168.10" y1="311.00" x2="169.90" y2="311.00" stroke="#000" stroke-width="0.8" />
<text class="n" x="169.40" y="337.60" font-size="5.4" text-anchor="middle" textLength="6.2" lengthAdjust="spacingAndGlyphs">10<tspan dy="-2.4" font-size="3.8">0</tspan></text>
<text class="n" x="181.57" y="337.60" font-size="5.4" text-anchor="middle" textLength="6.2" lengthAdjust="spacingAndGlyphs">10<tspan dy="-2.4" font-size="3.8">1</tspan></text>
<text class="n" x="196.37" y="337.60" font-size="5.4" text-anchor="middle" textLength="6.2" lengthAdjust="spacingAndGlyphs">10<tspan dy="-2.4" font-size="3.8">2</tspan></text>
<text class="n" x="211.93" y="337.60" font-size="5.4" text-anchor="middle" textLength="6.2" lengthAdjust="spacingAndGlyphs">10<tspan dy="-2.4" font-size="3.8">3</tspan></text>
<text class="n" x="225.09" y="337.60" font-size="5.4" text-anchor="middle" textLength="6.2" lengthAdjust="spacingAndGlyphs">10<tspan dy="-2.4" font-size="3.8">4</tspan></text>
<rect x="169.90" y="254.60" width="58.50" height="70.40" fill="none" stroke="#000" stroke-width="1.25"/>
<text x="172.20" y="268.50" font-size="11" >90</text>
<line x1="188.30" y1="287.90" x2="217.40" y2="287.90" stroke="#000" stroke-width="1.3" />
<line x1="188.30" y1="286.40" x2="188.30" y2="289.40" stroke="#000" stroke-width="1.4" />
<line x1="217.40" y1="286.40" x2="217.40" y2="289.40" stroke="#000" stroke-width="1.4" />
<path d="M170.70,324.40 C174.21,324.40 190.09,325.03 194.10,324.40 C198.10,323.77 196.49,321.70 197.40,320.20 C198.31,318.70 199.52,316.62 200.20,314.40 C200.88,312.18 201.39,308.22 201.90,305.40 C202.41,302.58 203.15,295.31 203.60,295.60 C204.05,295.89 204.51,309.13 204.90,307.30 C205.29,305.47 205.87,291.11 206.20,283.40 C206.53,275.69 206.83,256.29 207.10,255.90 C207.37,255.51 207.72,274.85 208.00,280.80 C208.28,286.75 208.50,299.20 209.00,295.60 C209.50,292.00 210.76,258.06 211.30,256.80 C211.84,255.54 212.21,279.52 212.60,287.20 C212.99,294.88 213.47,310.32 213.90,308.00 C214.34,305.68 215.06,272.48 215.50,271.70 C215.94,270.92 216.41,295.72 216.80,302.80 C217.19,309.88 217.62,318.51 218.10,318.90 C218.58,319.29 219.26,304.57 220.00,305.40 C220.74,306.22 221.86,321.55 223.00,324.40 C224.14,327.25 226.91,324.40 227.60,324.40" fill="none" stroke="#000" stroke-width="1.35" stroke-linejoin="round" />
<line x1="233.50" y1="325.80" x2="233.50" y2="328.00" stroke="#000" stroke-width="0.9" />
<line x1="248.07" y1="325.80" x2="248.07" y2="328.00" stroke="#000" stroke-width="0.9" />
<line x1="262.65" y1="325.80" x2="262.65" y2="328.00" stroke="#000" stroke-width="0.9" />
<line x1="277.23" y1="325.80" x2="277.23" y2="328.00" stroke="#000" stroke-width="0.9" />
<line x1="291.80" y1="325.80" x2="291.80" y2="328.00" stroke="#000" stroke-width="0.9" />
<line x1="237.89" y1="325.80" x2="237.89" y2="327.00" stroke="#000" stroke-width="0.6" />
<line x1="240.45" y1="325.80" x2="240.45" y2="327.00" stroke="#000" stroke-width="0.6" />
<line x1="242.27" y1="325.80" x2="242.27" y2="327.00" stroke="#000" stroke-width="0.6" />
<line x1="243.69" y1="325.80" x2="243.69" y2="327.00" stroke="#000" stroke-width="0.6" />
<line x1="244.84" y1="325.80" x2="244.84" y2="327.00" stroke="#000" stroke-width="0.6" />
<line x1="245.82" y1="325.80" x2="245.82" y2="327.00" stroke="#000" stroke-width="0.6" />
<line x1="246.66" y1="325.80" x2="246.66" y2="327.00" stroke="#000" stroke-width="0.6" />
<line x1="247.40" y1="325.80" x2="247.40" y2="327.00" stroke="#000" stroke-width="0.6" />
<line x1="252.46" y1="325.80" x2="252.46" y2="327.00" stroke="#000" stroke-width="0.6" />
<line x1="255.03" y1="325.80" x2="255.03" y2="327.00" stroke="#000" stroke-width="0.6" />
<line x1="256.85" y1="325.80" x2="256.85" y2="327.00" stroke="#000" stroke-width="0.6" />
<line x1="258.26" y1="325.80" x2="258.26" y2="327.00" stroke="#000" stroke-width="0.6" />
<line x1="259.41" y1="325.80" x2="259.41" y2="327.00" stroke="#000" stroke-width="0.6" />
<line x1="260.39" y1="325.80" x2="260.39" y2="327.00" stroke="#000" stroke-width="0.6" />
<line x1="261.24" y1="325.80" x2="261.24" y2="327.00" stroke="#000" stroke-width="0.6" />
<line x1="261.98" y1="325.80" x2="261.98" y2="327.00" stroke="#000" stroke-width="0.6" />
<line x1="267.04" y1="325.80" x2="267.04" y2="327.00" stroke="#000" stroke-width="0.6" />
<line x1="269.60" y1="325.80" x2="269.60" y2="327.00" stroke="#000" stroke-width="0.6" />
<line x1="271.42" y1="325.80" x2="271.42" y2="327.00" stroke="#000" stroke-width="0.6" />
<line x1="272.84" y1="325.80" x2="272.84" y2="327.00" stroke="#000" stroke-width="0.6" />
<line x1="273.99" y1="325.80" x2="273.99" y2="327.00" stroke="#000" stroke-width="0.6" />
<line x1="274.97" y1="325.80" x2="274.97" y2="327.00" stroke="#000" stroke-width="0.6" />
<line x1="275.81" y1="325.80" x2="275.81" y2="327.00" stroke="#000" stroke-width="0.6" />
<line x1="276.55" y1="325.80" x2="276.55" y2="327.00" stroke="#000" stroke-width="0.6" />
<line x1="281.61" y1="325.80" x2="281.61" y2="327.00" stroke="#000" stroke-width="0.6" />
<line x1="284.18" y1="325.80" x2="284.18" y2="327.00" stroke="#000" stroke-width="0.6" />
<line x1="286.00" y1="325.80" x2="286.00" y2="327.00" stroke="#000" stroke-width="0.6" />
<line x1="287.41" y1="325.80" x2="287.41" y2="327.00" stroke="#000" stroke-width="0.6" />
<line x1="288.56" y1="325.80" x2="288.56" y2="327.00" stroke="#000" stroke-width="0.6" />
<line x1="289.54" y1="325.80" x2="289.54" y2="327.00" stroke="#000" stroke-width="0.6" />
<line x1="290.39" y1="325.80" x2="290.39" y2="327.00" stroke="#000" stroke-width="0.6" />
<line x1="291.13" y1="325.80" x2="291.13" y2="327.00" stroke="#000" stroke-width="0.6" />
<line x1="231.70" y1="271.00" x2="233.50" y2="271.00" stroke="#000" stroke-width="0.8" />
<line x1="231.70" y1="289.00" x2="233.50" y2="289.00" stroke="#000" stroke-width="0.8" />
<line x1="231.70" y1="307.00" x2="233.50" y2="307.00" stroke="#000" stroke-width="0.8" />
<text class="n" x="233.00" y="338.40" font-size="5.4" text-anchor="middle" textLength="6.2" lengthAdjust="spacingAndGlyphs">10<tspan dy="-2.4" font-size="3.8">0</tspan></text>
<text class="n" x="245.13" y="338.40" font-size="5.4" text-anchor="middle" textLength="6.2" lengthAdjust="spacingAndGlyphs">10<tspan dy="-2.4" font-size="3.8">1</tspan></text>
<text class="n" x="259.88" y="338.40" font-size="5.4" text-anchor="middle" textLength="6.2" lengthAdjust="spacingAndGlyphs">10<tspan dy="-2.4" font-size="3.8">2</tspan></text>
<text class="n" x="275.38" y="338.40" font-size="5.4" text-anchor="middle" textLength="6.2" lengthAdjust="spacingAndGlyphs">10<tspan dy="-2.4" font-size="3.8">3</tspan></text>
<text class="n" x="288.50" y="338.40" font-size="5.4" text-anchor="middle" textLength="6.2" lengthAdjust="spacingAndGlyphs">10<tspan dy="-2.4" font-size="3.8">4</tspan></text>
<rect x="233.50" y="254.60" width="58.30" height="71.20" fill="none" stroke="#000" stroke-width="1.25"/>
<text x="235.80" y="268.90" font-size="11" >76</text>
<line x1="252.00" y1="288.50" x2="280.80" y2="288.50" stroke="#000" stroke-width="1.3" />
<line x1="252.00" y1="287.00" x2="252.00" y2="290.00" stroke="#000" stroke-width="1.4" />
<line x1="280.80" y1="287.00" x2="280.80" y2="290.00" stroke="#000" stroke-width="1.4" />
<path d="M234.30,325.20 C238.65,325.20 258.67,326.62 263.30,325.20 C267.94,323.77 264.68,318.49 265.20,315.70 C265.72,312.91 266.37,306.69 266.80,306.60 C267.24,306.51 267.75,316.45 268.10,315.10 C268.45,313.75 268.79,303.05 269.10,297.60 C269.42,292.16 269.81,278.61 270.20,278.80 C270.59,279.00 271.28,296.66 271.70,298.90 C272.12,301.13 272.50,297.97 273.00,293.70 C273.50,289.43 274.42,269.42 275.00,270.40 C275.58,271.38 276.22,302.24 276.90,300.20 C277.57,298.16 278.88,255.35 279.50,256.80 C280.12,258.25 280.42,306.10 281.00,309.90 C281.58,313.69 282.69,281.62 283.40,282.10 C284.10,282.58 285.02,306.64 285.70,313.10 C286.38,319.56 287.10,323.38 287.90,325.20 C288.69,327.01 290.53,325.20 291.00,325.20" fill="none" stroke="#000" stroke-width="1.35" stroke-linejoin="round" />
<line x1="295.90" y1="325.80" x2="295.90" y2="328.00" stroke="#000" stroke-width="0.9" />
<line x1="310.52" y1="325.80" x2="310.52" y2="328.00" stroke="#000" stroke-width="0.9" />
<line x1="325.15" y1="325.80" x2="325.15" y2="328.00" stroke="#000" stroke-width="0.9" />
<line x1="339.77" y1="325.80" x2="339.77" y2="328.00" stroke="#000" stroke-width="0.9" />
<line x1="354.40" y1="325.80" x2="354.40" y2="328.00" stroke="#000" stroke-width="0.9" />
<line x1="300.30" y1="325.80" x2="300.30" y2="327.00" stroke="#000" stroke-width="0.6" />
<line x1="302.88" y1="325.80" x2="302.88" y2="327.00" stroke="#000" stroke-width="0.6" />
<line x1="304.70" y1="325.80" x2="304.70" y2="327.00" stroke="#000" stroke-width="0.6" />
<line x1="306.12" y1="325.80" x2="306.12" y2="327.00" stroke="#000" stroke-width="0.6" />
<line x1="307.28" y1="325.80" x2="307.28" y2="327.00" stroke="#000" stroke-width="0.6" />
<line x1="308.26" y1="325.80" x2="308.26" y2="327.00" stroke="#000" stroke-width="0.6" />
<line x1="309.11" y1="325.80" x2="309.11" y2="327.00" stroke="#000" stroke-width="0.6" />
<line x1="309.85" y1="325.80" x2="309.85" y2="327.00" stroke="#000" stroke-width="0.6" />
<line x1="314.93" y1="325.80" x2="314.93" y2="327.00" stroke="#000" stroke-width="0.6" />
<line x1="317.50" y1="325.80" x2="317.50" y2="327.00" stroke="#000" stroke-width="0.6" />
<line x1="319.33" y1="325.80" x2="319.33" y2="327.00" stroke="#000" stroke-width="0.6" />
<line x1="320.75" y1="325.80" x2="320.75" y2="327.00" stroke="#000" stroke-width="0.6" />
<line x1="321.90" y1="325.80" x2="321.90" y2="327.00" stroke="#000" stroke-width="0.6" />
<line x1="322.88" y1="325.80" x2="322.88" y2="327.00" stroke="#000" stroke-width="0.6" />
<line x1="323.73" y1="325.80" x2="323.73" y2="327.00" stroke="#000" stroke-width="0.6" />
<line x1="324.48" y1="325.80" x2="324.48" y2="327.00" stroke="#000" stroke-width="0.6" />
<line x1="329.55" y1="325.80" x2="329.55" y2="327.00" stroke="#000" stroke-width="0.6" />
<line x1="332.13" y1="325.80" x2="332.13" y2="327.00" stroke="#000" stroke-width="0.6" />
<line x1="333.95" y1="325.80" x2="333.95" y2="327.00" stroke="#000" stroke-width="0.6" />
<line x1="335.37" y1="325.80" x2="335.37" y2="327.00" stroke="#000" stroke-width="0.6" />
<line x1="336.53" y1="325.80" x2="336.53" y2="327.00" stroke="#000" stroke-width="0.6" />
<line x1="337.51" y1="325.80" x2="337.51" y2="327.00" stroke="#000" stroke-width="0.6" />
<line x1="338.36" y1="325.80" x2="338.36" y2="327.00" stroke="#000" stroke-width="0.6" />
<line x1="339.10" y1="325.80" x2="339.10" y2="327.00" stroke="#000" stroke-width="0.6" />
<line x1="344.18" y1="325.80" x2="344.18" y2="327.00" stroke="#000" stroke-width="0.6" />
<line x1="346.75" y1="325.80" x2="346.75" y2="327.00" stroke="#000" stroke-width="0.6" />
<line x1="348.58" y1="325.80" x2="348.58" y2="327.00" stroke="#000" stroke-width="0.6" />
<line x1="350.00" y1="325.80" x2="350.00" y2="327.00" stroke="#000" stroke-width="0.6" />
<line x1="351.15" y1="325.80" x2="351.15" y2="327.00" stroke="#000" stroke-width="0.6" />
<line x1="352.13" y1="325.80" x2="352.13" y2="327.00" stroke="#000" stroke-width="0.6" />
<line x1="352.98" y1="325.80" x2="352.98" y2="327.00" stroke="#000" stroke-width="0.6" />
<line x1="353.73" y1="325.80" x2="353.73" y2="327.00" stroke="#000" stroke-width="0.6" />
<line x1="294.10" y1="266.00" x2="295.90" y2="266.00" stroke="#000" stroke-width="0.8" />
<line x1="294.10" y1="286.00" x2="295.90" y2="286.00" stroke="#000" stroke-width="0.8" />
<line x1="294.10" y1="306.00" x2="295.90" y2="306.00" stroke="#000" stroke-width="0.8" />
<text class="n" x="295.40" y="338.40" font-size="5.4" text-anchor="middle" textLength="6.2" lengthAdjust="spacingAndGlyphs">10<tspan dy="-2.4" font-size="3.8">0</tspan></text>
<text class="n" x="307.57" y="338.40" font-size="5.4" text-anchor="middle" textLength="6.2" lengthAdjust="spacingAndGlyphs">10<tspan dy="-2.4" font-size="3.8">1</tspan></text>
<text class="n" x="322.37" y="338.40" font-size="5.4" text-anchor="middle" textLength="6.2" lengthAdjust="spacingAndGlyphs">10<tspan dy="-2.4" font-size="3.8">2</tspan></text>
<text class="n" x="337.93" y="338.40" font-size="5.4" text-anchor="middle" textLength="6.2" lengthAdjust="spacingAndGlyphs">10<tspan dy="-2.4" font-size="3.8">3</tspan></text>
<text class="n" x="351.09" y="338.40" font-size="5.4" text-anchor="middle" textLength="6.2" lengthAdjust="spacingAndGlyphs">10<tspan dy="-2.4" font-size="3.8">4</tspan></text>
<rect x="295.90" y="254.60" width="58.50" height="71.20" fill="none" stroke="#000" stroke-width="1.25"/>
<text x="298.20" y="268.90" font-size="11" >77</text>
<line x1="314.30" y1="288.50" x2="343.50" y2="288.50" stroke="#000" stroke-width="1.3" />
<line x1="314.30" y1="287.00" x2="314.30" y2="290.00" stroke="#000" stroke-width="1.4" />
<line x1="343.50" y1="287.00" x2="343.50" y2="290.00" stroke="#000" stroke-width="1.4" />
<path d="M296.70,325.20 C301.14,325.20 321.57,327.21 326.30,325.20 C331.03,323.19 327.72,314.38 328.20,311.80 C328.68,309.22 329.11,308.57 329.50,308.00 C329.89,307.43 330.44,309.95 330.80,308.00 C331.16,306.05 331.54,298.60 331.90,295.00 C332.26,291.40 332.78,283.61 333.20,284.00 C333.62,284.39 334.08,299.64 334.70,297.60 C335.31,295.56 336.56,269.92 337.30,270.40 C338.04,270.88 338.93,302.74 339.60,300.80 C340.28,298.87 341.17,256.05 341.80,257.50 C342.43,258.95 343.16,307.05 343.80,310.50 C344.44,313.95 345.53,281.26 346.10,280.50 C346.67,279.74 347.18,298.69 347.60,305.40 C348.02,312.10 348.00,322.23 348.90,325.20 C349.80,328.17 352.89,325.20 353.60,325.20" fill="none" stroke="#000" stroke-width="1.35" stroke-linejoin="round" />
<text x="10.00" y="83.60" font-size="11" text-anchor="middle" textLength="34.90" lengthAdjust="spacingAndGlyphs" transform="rotate(-90 10.00 83.60)" ># Cells</text>
<text x="11.60" y="258.40" font-size="11" text-anchor="middle" textLength="35.30" lengthAdjust="spacingAndGlyphs" transform="rotate(-90 11.60 258.40)" ># Cells</text>
<text x="89.30" y="37.30" font-size="11.4" text-anchor="middle" textLength="43.60" lengthAdjust="spacingAndGlyphs" transform="rotate(-90 89.30 37.30)" >WT Treg</text>
<text x="90.20" y="116.10" font-size="12.2" text-anchor="middle" textLength="48.20" lengthAdjust="spacingAndGlyphs" transform="rotate(-90 90.20 116.10)" >Dnmt1-/-</text>
<text x="90.00" y="211.60" font-size="11.4" text-anchor="middle" textLength="43.30" lengthAdjust="spacingAndGlyphs" transform="rotate(-90 90.00 211.60)" >WT Treg</text>
<text x="91.00" y="291.10" font-size="12.2" text-anchor="middle" textLength="49.20" lengthAdjust="spacingAndGlyphs" transform="rotate(-90 91.00 291.10)" >Dnmt1-/-</text>
<text x="219.00" y="344.20" font-size="5.8" textLength="30.50" lengthAdjust="spacingAndGlyphs" class="n">FITC-CFSE</text>
<text x="1.90" y="357.50" font-size="11.3" textLength="59.30" lengthAdjust="spacingAndGlyphs" >Treg:Teff 0:1</text>
<text x="117.70" y="358.20" font-size="11.3" textLength="36.30" lengthAdjust="spacingAndGlyphs" >0.125:1</text>
<text x="187.80" y="358.20" font-size="11.3" textLength="29.10" lengthAdjust="spacingAndGlyphs" >0.25:1</text>
<text x="258.00" y="358.20" font-size="11.3" textLength="23.40" lengthAdjust="spacingAndGlyphs" >0.5:1</text>
<text x="326.00" y="358.20" font-size="11.3" textLength="13.60" lengthAdjust="spacingAndGlyphs" >1:1</text>
<text x="365.60" y="13.70" font-size="17.5" font-weight="bold" textLength="11.80" lengthAdjust="spacingAndGlyphs" >B</text>
<line x1="403.00" y1="29.50" x2="403.00" y2="163.50" stroke="#000" stroke-width="1.5" />
<line x1="402.30" y1="162.80" x2="514.00" y2="162.80" stroke="#000" stroke-width="1.5" />
<line x1="401.00" y1="162.80" x2="403.00" y2="162.80" stroke="#000" stroke-width="1.0" />
<text x="391.10" y="167.60" font-size="9" text-anchor="middle" >0</text>
<line x1="401.00" y1="137.30" x2="403.00" y2="137.30" stroke="#000" stroke-width="1.0" />
<text x="391.10" y="142.10" font-size="9" text-anchor="middle" >20</text>
<line x1="401.00" y1="111.80" x2="403.00" y2="111.80" stroke="#000" stroke-width="1.0" />
<text x="391.10" y="116.60" font-size="9" text-anchor="middle" >40</text>
<line x1="401.00" y1="86.30" x2="403.00" y2="86.30" stroke="#000" stroke-width="1.0" />
<text x="391.10" y="91.10" font-size="9" text-anchor="middle" >60</text>
<line x1="401.00" y1="60.80" x2="403.00" y2="60.80" stroke="#000" stroke-width="1.0" />
<text x="391.10" y="65.60" font-size="9" text-anchor="middle" >80</text>
<line x1="401.00" y1="35.30" x2="403.00" y2="35.30" stroke="#000" stroke-width="1.0" />
<text x="391.10" y="40.10" font-size="9" text-anchor="middle" >100</text>
<line x1="425.30" y1="162.80" x2="425.30" y2="165.00" stroke="#000" stroke-width="1.0" />
<line x1="448.20" y1="162.80" x2="448.20" y2="165.00" stroke="#000" stroke-width="1.0" />
<line x1="471.00" y1="162.80" x2="471.00" y2="165.00" stroke="#000" stroke-width="1.0" />
<line x1="493.60" y1="162.80" x2="493.60" y2="165.00" stroke="#000" stroke-width="1.0" />
<line x1="405.0" y1="9.30" x2="419.2" y2="9.30" stroke="#000" stroke-width="1.1" stroke-dasharray="1.2,1.2"/>
<text x="425.60" y="13.00" font-size="11.8" textLength="85.60" lengthAdjust="spacingAndGlyphs" >Dnmt1/CD4-Cre</text>
<line x1="405.30" y1="23.60" x2="420.20" y2="23.60" stroke="#000" stroke-width="1.8" />
<text x="425.80" y="28.70" font-size="11.6" textLength="17.20" lengthAdjust="spacingAndGlyphs" >WT</text>
<polyline points="413.90,34.60 436.70,40.20 459.60,50.00 482.30,62.40 504.80,67.30" fill="none" stroke="#000" stroke-width="1.35" stroke-dasharray="1.3,1.0"/>
<line x1="436.70" y1="40.20" x2="436.70" y2="34.50" stroke="#000" stroke-width="1.5" />
<line x1="435.30" y1="34.50" x2="438.10" y2="34.50" stroke="#000" stroke-width="1.4" />
<line x1="459.60" y1="51.70" x2="459.60" y2="48.30" stroke="#000" stroke-width="1.5" />
<line x1="458.20" y1="48.30" x2="461.00" y2="48.30" stroke="#000" stroke-width="1.4" />
<line x1="482.30" y1="63.40" x2="482.30" y2="61.40" stroke="#000" stroke-width="1.5" />
<line x1="480.90" y1="61.40" x2="483.70" y2="61.40" stroke="#000" stroke-width="1.4" />
<line x1="504.80" y1="67.30" x2="504.80" y2="62.70" stroke="#000" stroke-width="1.5" />
<line x1="503.40" y1="62.70" x2="506.20" y2="62.70" stroke="#000" stroke-width="1.4" />
<polyline points="413.90,34.60 436.70,93.80 459.60,113.40 482.30,128.70 504.80,137.50" fill="none" stroke="#000" stroke-width="1.6" stroke-linejoin="round" />
<line x1="436.70" y1="98.00" x2="436.70" y2="91.60" stroke="#000" stroke-width="1.3" />
<line x1="435.50" y1="98.00" x2="437.90" y2="98.00" stroke="#000" stroke-width="1.2" />
<line x1="459.60" y1="117.00" x2="459.60" y2="111.70" stroke="#000" stroke-width="1.3" />
<line x1="458.40" y1="117.00" x2="460.80" y2="117.00" stroke="#000" stroke-width="1.2" />
<line x1="482.30" y1="137.10" x2="482.30" y2="128.70" stroke="#000" stroke-width="1.3" />
<line x1="481.10" y1="137.10" x2="483.50" y2="137.10" stroke="#000" stroke-width="1.2" />
<line x1="504.80" y1="153.00" x2="504.80" y2="137.50" stroke="#000" stroke-width="1.3" />
<line x1="503.60" y1="153.00" x2="506.00" y2="153.00" stroke="#000" stroke-width="1.2" />
<circle cx="413.90" cy="34.60" r="1.6" fill="#000"/>
<circle cx="436.70" cy="93.80" r="1.6" fill="#000"/>
<circle cx="459.60" cy="113.40" r="1.6" fill="#000"/>
<circle cx="482.30" cy="128.70" r="1.6" fill="#000"/>
<circle cx="504.80" cy="137.50" r="1.6" fill="#000"/>
<circle cx="413.90" cy="34.60" r="0.9" fill="#000"/>
<circle cx="436.70" cy="40.20" r="0.9" fill="#000"/>
<circle cx="459.60" cy="50.00" r="0.9" fill="#000"/>
<circle cx="482.30" cy="62.40" r="0.9" fill="#000"/>
<circle cx="504.80" cy="67.30" r="0.9" fill="#000"/>
<line x1="403.00" y1="202.30" x2="403.00" y2="333.30" stroke="#000" stroke-width="1.5" />
<line x1="402.30" y1="332.60" x2="514.00" y2="332.60" stroke="#000" stroke-width="1.5" />
<line x1="401.00" y1="332.60" x2="403.00" y2="332.60" stroke="#000" stroke-width="1.0" />
<text x="396.10" y="339.00" font-size="9" text-anchor="middle" >0</text>
<line x1="401.00" y1="307.60" x2="403.00" y2="307.60" stroke="#000" stroke-width="1.0" />
<text x="393.00" y="311.20" font-size="9" text-anchor="middle" >20</text>
<line x1="401.00" y1="282.60" x2="403.00" y2="282.60" stroke="#000" stroke-width="1.0" />
<text x="393.00" y="286.20" font-size="9" text-anchor="middle" >40</text>
<line x1="401.00" y1="257.60" x2="403.00" y2="257.60" stroke="#000" stroke-width="1.0" />
<text x="393.00" y="261.20" font-size="9" text-anchor="middle" >60</text>
<line x1="401.00" y1="232.60" x2="403.00" y2="232.60" stroke="#000" stroke-width="1.0" />
<text x="393.00" y="236.20" font-size="9" text-anchor="middle" >80</text>
<line x1="401.00" y1="207.60" x2="403.00" y2="207.60" stroke="#000" stroke-width="1.0" />
<text x="393.00" y="211.20" font-size="9" text-anchor="middle" >100</text>
<line x1="425.90" y1="332.60" x2="425.90" y2="334.80" stroke="#000" stroke-width="1.0" />
<line x1="449.30" y1="332.60" x2="449.30" y2="334.80" stroke="#000" stroke-width="1.0" />
<line x1="472.20" y1="332.60" x2="472.20" y2="334.80" stroke="#000" stroke-width="1.0" />
<line x1="495.20" y1="332.60" x2="495.20" y2="334.80" stroke="#000" stroke-width="1.0" />
<line x1="406.5" y1="177.30" x2="418.8" y2="177.30" stroke="#000" stroke-width="1.1" stroke-dasharray="1.2,1.2"/>
<text x="422.70" y="181.30" font-size="11.8" textLength="90.80" lengthAdjust="spacingAndGlyphs" >Dnmt1/Foxp3-Cre</text>
<line x1="406.30" y1="191.70" x2="419.20" y2="191.70" stroke="#000" stroke-width="1.8" />
<text x="423.20" y="195.60" font-size="11.6" textLength="16.20" lengthAdjust="spacingAndGlyphs" >WT</text>
<polyline points="414.60,207.70 437.80,206.00 460.80,209.40 483.50,228.80 506.30,227.80" fill="none" stroke="#000" stroke-width="1.35" stroke-dasharray="1.3,1.0"/>
<line x1="437.80" y1="206.00" x2="437.80" y2="202.40" stroke="#000" stroke-width="1.5" />
<line x1="436.40" y1="202.40" x2="439.20" y2="202.40" stroke="#000" stroke-width="1.4" />
<line x1="460.80" y1="209.40" x2="460.80" y2="207.70" stroke="#000" stroke-width="1.5" />
<line x1="459.40" y1="207.70" x2="462.20" y2="207.70" stroke="#000" stroke-width="1.4" />
<line x1="483.50" y1="228.80" x2="483.50" y2="220.40" stroke="#000" stroke-width="1.5" />
<line x1="482.10" y1="220.40" x2="484.90" y2="220.40" stroke="#000" stroke-width="1.4" />
<line x1="506.30" y1="227.80" x2="506.30" y2="220.40" stroke="#000" stroke-width="1.5" />
<line x1="504.90" y1="220.40" x2="507.70" y2="220.40" stroke="#000" stroke-width="1.4" />
<polyline points="414.60,207.70 437.80,228.80 460.80,246.00 483.50,283.70 506.30,301.00" fill="none" stroke="#000" stroke-width="1.6" stroke-linejoin="round" />
<line x1="437.80" y1="234.80" x2="437.80" y2="227.80" stroke="#000" stroke-width="1.3" />
<line x1="436.60" y1="234.80" x2="439.00" y2="234.80" stroke="#000" stroke-width="1.2" />
<line x1="460.80" y1="249.80" x2="460.80" y2="244.50" stroke="#000" stroke-width="1.3" />
<line x1="459.60" y1="249.80" x2="462.00" y2="249.80" stroke="#000" stroke-width="1.2" />
<line x1="483.50" y1="292.50" x2="483.50" y2="283.70" stroke="#000" stroke-width="1.3" />
<line x1="482.30" y1="292.50" x2="484.70" y2="292.50" stroke="#000" stroke-width="1.2" />
<line x1="506.30" y1="310.50" x2="506.30" y2="301.00" stroke="#000" stroke-width="1.3" />
<line x1="505.10" y1="310.50" x2="507.50" y2="310.50" stroke="#000" stroke-width="1.2" />
<circle cx="414.60" cy="207.70" r="1.6" fill="#000"/>
<circle cx="437.80" cy="228.80" r="1.6" fill="#000"/>
<circle cx="460.80" cy="246.00" r="1.6" fill="#000"/>
<circle cx="483.50" cy="283.70" r="1.6" fill="#000"/>
<circle cx="506.30" cy="301.00" r="1.6" fill="#000"/>
<circle cx="414.60" cy="207.70" r="0.9" fill="#000"/>
<circle cx="437.80" cy="206.00" r="0.9" fill="#000"/>
<circle cx="460.80" cy="209.40" r="0.9" fill="#000"/>
<circle cx="483.50" cy="228.80" r="0.9" fill="#000"/>
<circle cx="506.30" cy="227.80" r="0.9" fill="#000"/>
<text x="380.00" y="90.50" font-size="12.1" text-anchor="middle" textLength="107.60" lengthAdjust="spacingAndGlyphs" transform="rotate(-90 380.00 90.50)" >% Cells proliferating</text>
<text x="379.60" y="258.60" font-size="12.1" text-anchor="middle" textLength="102.50" lengthAdjust="spacingAndGlyphs" transform="rotate(-90 379.60 258.60)" >% Cells proliferating</text>
<text x="413.50" y="345.50" font-size="8.2" text-anchor="middle" textLength="9.90" lengthAdjust="spacingAndGlyphs" >0:1</text>
<text x="438.50" y="345.50" font-size="8.2" text-anchor="middle" textLength="26.50" lengthAdjust="spacingAndGlyphs" >0.125:1</text>
<text x="468.90" y="345.50" font-size="8.2" text-anchor="middle" textLength="22.20" lengthAdjust="spacingAndGlyphs" >0.25:1</text>
<text x="491.80" y="345.50" font-size="8.2" text-anchor="middle" textLength="18.50" lengthAdjust="spacingAndGlyphs" >0.5:1</text>
<text x="510.70" y="345.50" font-size="8.2" text-anchor="middle" textLength="9.40" lengthAdjust="spacingAndGlyphs" >1:1</text>
<text x="430.80" y="358.50" font-size="11.4" textLength="69.20" lengthAdjust="spacingAndGlyphs" >Treg:Teff ratio</text>
<text x="0.60" y="382.30" font-size="18" font-weight="bold" textLength="13.00" lengthAdjust="spacingAndGlyphs" >C</text>
<line x1="48.20" y1="396.50" x2="48.20" y2="557.70" stroke="#000" stroke-width="1.5" />
<line x1="47.50" y1="557.00" x2="237.50" y2="557.00" stroke="#000" stroke-width="1.6" />
<line x1="45.80" y1="557.00" x2="48.20" y2="557.00" stroke="#000" stroke-width="1.0" />
<line x1="46.60" y1="541.00" x2="48.20" y2="541.00" stroke="#000" stroke-width="1.0" />
<line x1="45.80" y1="525.00" x2="48.20" y2="525.00" stroke="#000" stroke-width="1.0" />
<line x1="46.60" y1="509.00" x2="48.20" y2="509.00" stroke="#000" stroke-width="1.0" />
<line x1="45.80" y1="493.00" x2="48.20" y2="493.00" stroke="#000" stroke-width="1.0" />
<line x1="46.60" y1="477.00" x2="48.20" y2="477.00" stroke="#000" stroke-width="1.0" />
<line x1="45.80" y1="461.00" x2="48.20" y2="461.00" stroke="#000" stroke-width="1.0" />
<line x1="46.60" y1="445.00" x2="48.20" y2="445.00" stroke="#000" stroke-width="1.0" />
<line x1="45.80" y1="429.00" x2="48.20" y2="429.00" stroke="#000" stroke-width="1.0" />
<line x1="46.60" y1="413.00" x2="48.20" y2="413.00" stroke="#000" stroke-width="1.0" />
<line x1="45.80" y1="397.00" x2="48.20" y2="397.00" stroke="#000" stroke-width="1.0" />
<text x="42.20" y="561.30" font-size="12.4" text-anchor="end" >0</text>
<text x="42.20" y="529.30" font-size="12.4" text-anchor="end" >0.4</text>
<text x="42.20" y="497.30" font-size="12.4" text-anchor="end" >0.8</text>
<text x="42.20" y="465.30" font-size="12.4" text-anchor="end" >1.2</text>
<text x="42.20" y="433.30" font-size="12.4" text-anchor="end" >1.6</text>
<text x="42.20" y="401.30" font-size="12.4" text-anchor="end" >2.0</text>
<text x="12.00" y="487.60" font-size="12.5" text-anchor="middle" transform="rotate(-90 12.00 487.60)" >Cell Number (10<tspan dy="-4" font-size="7.5">6</tspan><tspan dy="4">)</tspan></text>
<line x1="74.45" y1="447.20" x2="74.45" y2="442.80" stroke="#000" stroke-width="1.0" />
<line x1="71.25" y1="442.80" x2="77.65" y2="442.80" stroke="#000" stroke-width="1.6" />
<rect x="63.60" y="447.20" width="21.70" height="109.80" fill="#fff" stroke="#000" stroke-width="1.7"/>
<line x1="95.50" y1="524.50" x2="95.50" y2="514.80" stroke="#000" stroke-width="1.0" />
<line x1="92.30" y1="514.80" x2="98.70" y2="514.80" stroke="#000" stroke-width="1.6" />
<rect x="85.30" y="524.50" width="20.40" height="32.50" fill="#000" stroke="#000" stroke-width="1.7"/>
<line x1="116.55" y1="423.50" x2="116.55" y2="417.70" stroke="#000" stroke-width="1.0" />
<line x1="113.35" y1="417.70" x2="119.75" y2="417.70" stroke="#000" stroke-width="1.6" />
<rect x="105.70" y="423.50" width="21.70" height="133.50" fill="#b2b2b2" stroke="#000" stroke-width="1.7"/>
<line x1="168.80" y1="469.20" x2="168.80" y2="462.50" stroke="#000" stroke-width="1.0" />
<line x1="165.60" y1="462.50" x2="172.00" y2="462.50" stroke="#000" stroke-width="1.6" />
<rect x="158.60" y="469.20" width="20.40" height="87.80" fill="#fff" stroke="#000" stroke-width="1.7"/>
<rect x="179.00" y="530.80" width="21.80" height="26.20" fill="#000" stroke="#000" stroke-width="1.7"/>
<line x1="211.40" y1="461.20" x2="211.40" y2="460.00" stroke="#000" stroke-width="1.0" />
<line x1="208.20" y1="460.00" x2="214.60" y2="460.00" stroke="#000" stroke-width="1.6" />
<rect x="200.80" y="461.20" width="21.20" height="95.80" fill="#b2b2b2" stroke="#000" stroke-width="1.7"/>
<polyline points="94.70,502.50 94.70,407.70 117.30,407.70 117.30,411.50" fill="none" stroke="#000" stroke-width="1.0" stroke-linejoin="round" />
<polyline points="189.20,527.00 189.20,432.50 210.50,432.50 210.50,453.00" fill="none" stroke="#000" stroke-width="1.0" stroke-linejoin="round" />
<text x="87.30" y="401.50" font-size="12" textLength="39.20" lengthAdjust="spacingAndGlyphs" >P&lt;0.01</text>
<text x="180.00" y="425.50" font-size="12" textLength="40.00" lengthAdjust="spacingAndGlyphs" >P&lt;0.01</text>
<text x="88.90" y="571.80" font-size="12" textLength="14.00" lengthAdjust="spacingAndGlyphs" >LN</text>
<text x="175.00" y="572.50" font-size="12" textLength="37.50" lengthAdjust="spacingAndGlyphs" >Spleen</text>
<rect x="5.30" y="581.90" width="6.80" height="7.20" fill="#fff" stroke="#000" stroke-width="1.4"/>
<text x="12.80" y="589.60" font-size="12.4" textLength="23.50" lengthAdjust="spacingAndGlyphs" >Teff</text>
<rect x="48.50" y="581.30" width="7.40" height="8.20" fill="#000" stroke="none" stroke-width="0"/>
<text x="56.50" y="589.60" font-size="12.4" textLength="76.80" lengthAdjust="spacingAndGlyphs" >Teff/WT Treg</text>
<rect x="146.90" y="581.90" width="6.60" height="7.60" fill="#b2b2b2" stroke="#000" stroke-width="1.4"/>
<text x="155.00" y="589.60" font-size="12.4" textLength="102.50" lengthAdjust="spacingAndGlyphs" >Teff/Dnmt1-/- Treg</text>
<text x="274.40" y="382.30" font-size="17.5" font-weight="bold" textLength="12.60" lengthAdjust="spacingAndGlyphs" >D</text>
<line x1="315.80" y1="399.50" x2="315.80" y2="556.30" stroke="#000" stroke-width="1.5" />
<line x1="313.00" y1="555.60" x2="516.50" y2="555.60" stroke="#000" stroke-width="1.5" />
<line x1="313.20" y1="555.60" x2="315.80" y2="555.60" stroke="#000" stroke-width="1.0" />
<line x1="314.00" y1="539.65" x2="315.80" y2="539.65" stroke="#000" stroke-width="1.0" />
<line x1="313.20" y1="524.30" x2="315.80" y2="524.30" stroke="#000" stroke-width="1.0" />
<line x1="314.00" y1="508.95" x2="315.80" y2="508.95" stroke="#000" stroke-width="1.0" />
<line x1="313.20" y1="493.60" x2="315.80" y2="493.60" stroke="#000" stroke-width="1.0" />
<line x1="314.00" y1="478.25" x2="315.80" y2="478.25" stroke="#000" stroke-width="1.0" />
<line x1="313.20" y1="462.90" x2="315.80" y2="462.90" stroke="#000" stroke-width="1.0" />
<line x1="314.00" y1="447.55" x2="315.80" y2="447.55" stroke="#000" stroke-width="1.0" />
<line x1="313.20" y1="432.20" x2="315.80" y2="432.20" stroke="#000" stroke-width="1.0" />
<line x1="314.00" y1="416.85" x2="315.80" y2="416.85" stroke="#000" stroke-width="1.0" />
<line x1="313.20" y1="401.50" x2="315.80" y2="401.50" stroke="#000" stroke-width="1.0" />
<text x="303.20" y="559.20" font-size="9.8" text-anchor="middle" >0</text>
<text x="303.20" y="527.90" font-size="9.8" text-anchor="middle" >20</text>
<text x="303.20" y="497.20" font-size="9.8" text-anchor="middle" >40</text>
<text x="303.20" y="466.50" font-size="9.8" text-anchor="middle" >60</text>
<text x="303.20" y="435.80" font-size="9.8" text-anchor="middle" >80</text>
<text x="302.30" y="407.80" font-size="9.8" text-anchor="middle" >100</text>
<line x1="315.80" y1="555.60" x2="315.80" y2="558.60" stroke="#000" stroke-width="1.0" />
<line x1="323.84" y1="555.60" x2="323.84" y2="557.60" stroke="#000" stroke-width="1.0" />
<line x1="331.88" y1="555.60" x2="331.88" y2="557.60" stroke="#000" stroke-width="1.0" />
<line x1="339.91" y1="555.60" x2="339.91" y2="557.60" stroke="#000" stroke-width="1.0" />
<line x1="347.95" y1="555.60" x2="347.95" y2="558.60" stroke="#000" stroke-width="1.0" />
<line x1="355.99" y1="555.60" x2="355.99" y2="557.60" stroke="#000" stroke-width="1.0" />
<line x1="364.02" y1="555.60" x2="364.02" y2="557.60" stroke="#000" stroke-width="1.0" />
<line x1="372.06" y1="555.60" x2="372.06" y2="557.60" stroke="#000" stroke-width="1.0" />
<line x1="380.10" y1="555.60" x2="380.10" y2="558.60" stroke="#000" stroke-width="1.0" />
<line x1="388.14" y1="555.60" x2="388.14" y2="557.60" stroke="#000" stroke-width="1.0" />
<line x1="396.18" y1="555.60" x2="396.18" y2="557.60" stroke="#000" stroke-width="1.0" />
<line x1="404.21" y1="555.60" x2="404.21" y2="557.60" stroke="#000" stroke-width="1.0" />
<line x1="412.25" y1="555.60" x2="412.25" y2="558.60" stroke="#000" stroke-width="1.0" />
<line x1="420.29" y1="555.60" x2="420.29" y2="557.60" stroke="#000" stroke-width="1.0" />
<line x1="428.32" y1="555.60" x2="428.32" y2="557.60" stroke="#000" stroke-width="1.0" />
<line x1="436.36" y1="555.60" x2="436.36" y2="557.60" stroke="#000" stroke-width="1.0" />
<line x1="444.40" y1="555.60" x2="444.40" y2="558.60" stroke="#000" stroke-width="1.0" />
<line x1="452.44" y1="555.60" x2="452.44" y2="557.60" stroke="#000" stroke-width="1.0" />
<line x1="460.48" y1="555.60" x2="460.48" y2="557.60" stroke="#000" stroke-width="1.0" />
<line x1="468.51" y1="555.60" x2="468.51" y2="557.60" stroke="#000" stroke-width="1.0" />
<line x1="476.55" y1="555.60" x2="476.55" y2="558.60" stroke="#000" stroke-width="1.0" />
<line x1="484.59" y1="555.60" x2="484.59" y2="557.60" stroke="#000" stroke-width="1.0" />
<line x1="492.62" y1="555.60" x2="492.62" y2="557.60" stroke="#000" stroke-width="1.0" />
<line x1="500.66" y1="555.60" x2="500.66" y2="557.60" stroke="#000" stroke-width="1.0" />
<line x1="508.70" y1="555.60" x2="508.70" y2="558.60" stroke="#000" stroke-width="1.0" />
<line x1="516.74" y1="555.60" x2="516.74" y2="557.60" stroke="#000" stroke-width="1.0" />
<text x="315.80" y="568.20" font-size="9.3" text-anchor="middle" >0</text>
<text x="347.95" y="568.20" font-size="9.3" text-anchor="middle" >20</text>
<text x="380.10" y="568.20" font-size="9.3" text-anchor="middle" >40</text>
<text x="412.25" y="568.20" font-size="9.3" text-anchor="middle" >60</text>
<text x="444.40" y="568.20" font-size="9.3" text-anchor="middle" >80</text>
<text x="476.55" y="568.20" font-size="9.3" text-anchor="middle" >100</text>
<text x="508.70" y="568.20" font-size="9.3" text-anchor="middle" >120</text>
<text x="284.40" y="475.00" font-size="12.7" text-anchor="middle" textLength="69.40" lengthAdjust="spacingAndGlyphs" transform="rotate(-90 284.40 475.00)" >Survival (%)</text>
<text x="379.20" y="591.20" font-size="12.6" textLength="75.00" lengthAdjust="spacingAndGlyphs" >Days post-Tx</text>
<line x1="315.80" y1="401.50" x2="516.50" y2="401.50" stroke="#000" stroke-width="1.6" />
<polyline points="340.70,405.60 340.70,412.50" fill="none" stroke="#7a7a7a" stroke-width="1.5" stroke-linejoin="round" stroke-linecap="butt"/>
<polyline points="340.70,418.70 340.70,425.50" fill="none" stroke="#7a7a7a" stroke-width="1.5" stroke-linejoin="round" stroke-linecap="butt"/>
<polyline points="340.70,432.40 340.70,438.60 343.80,438.60 343.80,449.00" fill="none" stroke="#7a7a7a" stroke-width="1.5" stroke-linejoin="round" stroke-linecap="butt"/>
<polyline points="343.80,453.10 343.80,462.00" fill="none" stroke="#7a7a7a" stroke-width="1.5" stroke-linejoin="round" stroke-linecap="butt"/>
<polyline points="343.80,466.20 343.80,477.60 348.60,477.60 348.60,487.10" fill="none" stroke="#7a7a7a" stroke-width="1.5" stroke-linejoin="round" stroke-linecap="butt"/>
<polyline points="348.60,490.70 348.60,500.70" fill="none" stroke="#7a7a7a" stroke-width="1.5" stroke-linejoin="round" stroke-linecap="butt"/>
<polyline points="348.60,504.30 348.60,515.70 350.00,515.70 350.00,524.30" fill="none" stroke="#7a7a7a" stroke-width="1.5" stroke-linejoin="round" stroke-linecap="butt"/>
<polyline points="350.00,529.30 350.00,537.90" fill="none" stroke="#7a7a7a" stroke-width="1.5" stroke-linejoin="round" stroke-linecap="butt"/>
<polyline points="350.00,542.00 350.00,552.90" fill="none" stroke="#7a7a7a" stroke-width="1.5" stroke-linejoin="round" stroke-linecap="butt"/>
<line x1="373.20" y1="463.30" x2="389.70" y2="463.30" stroke="#000" stroke-width="1.5" />
<text x="400.40" y="467.50" font-size="12.2" textLength="47.90" lengthAdjust="spacingAndGlyphs" >WT Treg</text>
<line x1="373.40" y1="479.80" x2="379.20" y2="479.80" stroke="#858585" stroke-width="1.4" />
<line x1="382.50" y1="479.80" x2="388.40" y2="479.80" stroke="#858585" stroke-width="1.4" />
<text x="399.80" y="485.20" font-size="12.2" textLength="76.50" lengthAdjust="spacingAndGlyphs" >Dnmt1-/- Treg</text>
<text x="400.40" y="503.30" font-size="12.2" textLength="39.30" lengthAdjust="spacingAndGlyphs" >P&lt;0.01</text>
</svg>
</body></html>
